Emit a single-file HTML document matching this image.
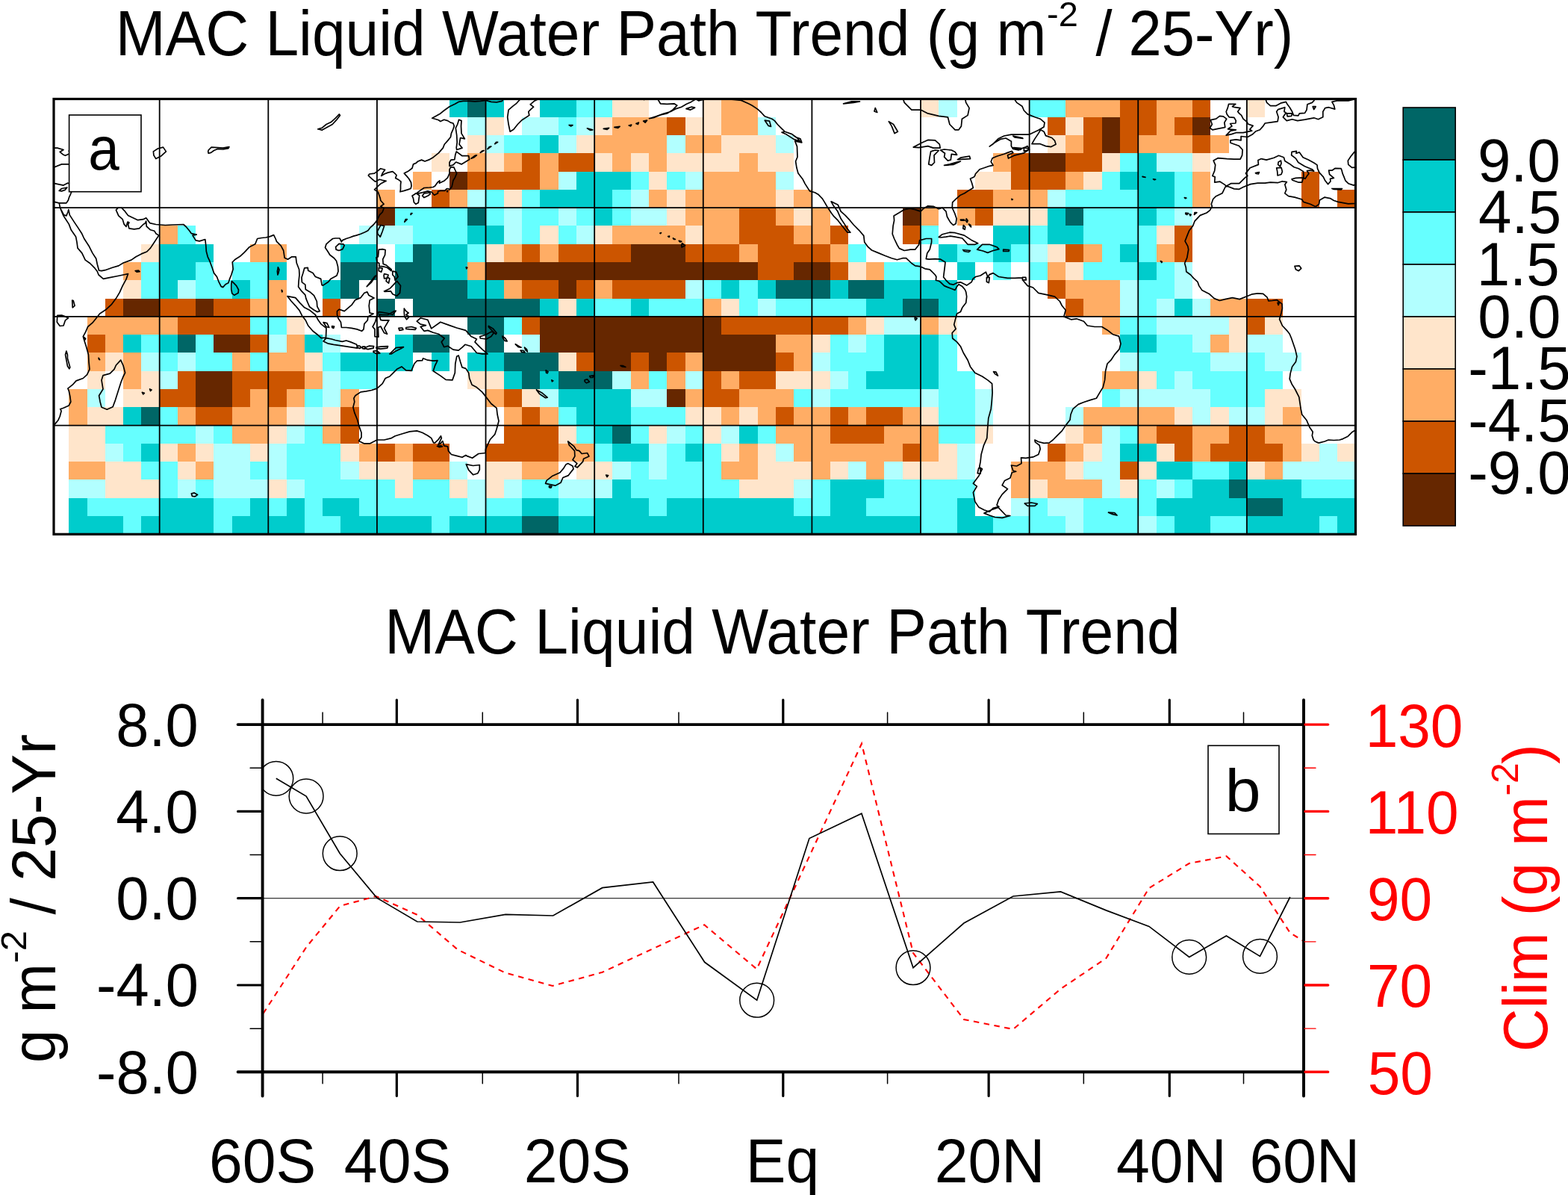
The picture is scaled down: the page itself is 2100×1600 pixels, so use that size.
<!DOCTYPE html>
<html><head><meta charset="utf-8"><title>MAC Liquid Water Path Trend</title>
<style>html,body{margin:0;padding:0;background:#fff;}svg{display:block;}</style></head>
<body>
<svg xmlns="http://www.w3.org/2000/svg" width="2100" height="1600" viewBox="0 0 2100 1600">
<rect width="2100" height="1600" fill="#fff"/>
<defs><clipPath id="mc"><rect x="72.0" y="132.5" width="1743.5" height="582.8"/></clipPath></defs>
<g clip-path="url(#mc)" shape-rendering="crispEdges">
<rect x="602.00" y="132.50" width="24.27" height="24.28" fill="#00cccc"/>
<rect x="626.27" y="132.50" width="24.27" height="24.28" fill="#006666"/>
<rect x="650.54" y="132.50" width="24.27" height="24.28" fill="#00cccc"/>
<rect x="723.35" y="132.50" width="48.54" height="24.28" fill="#00cccc"/>
<rect x="771.89" y="132.50" width="48.54" height="24.28" fill="#66ffff"/>
<rect x="820.43" y="132.50" width="48.54" height="24.28" fill="#ffe5cb"/>
<rect x="941.78" y="132.50" width="24.27" height="24.28" fill="#ffe5cb"/>
<rect x="966.05" y="132.50" width="48.54" height="24.28" fill="#ffad65"/>
<rect x="1233.02" y="132.50" width="24.27" height="24.28" fill="#ffe5cb"/>
<rect x="1257.29" y="132.50" width="24.27" height="24.28" fill="#b2ffff"/>
<rect x="1378.64" y="132.50" width="48.54" height="24.28" fill="#66ffff"/>
<rect x="1427.18" y="132.50" width="72.81" height="24.28" fill="#ffad65"/>
<rect x="1499.99" y="132.50" width="48.54" height="24.28" fill="#cc5500"/>
<rect x="1548.53" y="132.50" width="48.54" height="24.28" fill="#ffad65"/>
<rect x="1597.07" y="132.50" width="24.27" height="24.28" fill="#cc5500"/>
<rect x="1669.88" y="132.50" width="24.27" height="24.28" fill="#ffe5cb"/>
<rect x="626.27" y="156.78" width="24.27" height="24.28" fill="#b2ffff"/>
<rect x="650.54" y="156.78" width="24.27" height="24.28" fill="#ffe5cb"/>
<rect x="699.08" y="156.78" width="48.54" height="24.28" fill="#b2ffff"/>
<rect x="747.62" y="156.78" width="24.27" height="24.28" fill="#66ffff"/>
<rect x="771.89" y="156.78" width="24.27" height="24.28" fill="#b2ffff"/>
<rect x="796.16" y="156.78" width="24.27" height="24.28" fill="#ffe5cb"/>
<rect x="820.43" y="156.78" width="72.81" height="24.28" fill="#ffad65"/>
<rect x="893.24" y="156.78" width="24.27" height="24.28" fill="#cc5500"/>
<rect x="917.51" y="156.78" width="48.54" height="24.28" fill="#ffe5cb"/>
<rect x="966.05" y="156.78" width="48.54" height="24.28" fill="#ffad65"/>
<rect x="1014.59" y="156.78" width="24.27" height="24.28" fill="#b2ffff"/>
<rect x="1402.91" y="156.78" width="24.27" height="24.28" fill="#cc5500"/>
<rect x="1427.18" y="156.78" width="24.27" height="24.28" fill="#ffe5cb"/>
<rect x="1451.45" y="156.78" width="24.27" height="24.28" fill="#cc5500"/>
<rect x="1475.72" y="156.78" width="24.27" height="24.28" fill="#662700"/>
<rect x="1499.99" y="156.78" width="48.54" height="24.28" fill="#cc5500"/>
<rect x="1548.53" y="156.78" width="24.27" height="24.28" fill="#ffad65"/>
<rect x="1572.80" y="156.78" width="24.27" height="24.28" fill="#cc5500"/>
<rect x="1597.07" y="156.78" width="24.27" height="24.28" fill="#662700"/>
<rect x="626.27" y="181.07" width="24.27" height="24.28" fill="#ffe5cb"/>
<rect x="650.54" y="181.07" width="24.27" height="24.28" fill="#b2ffff"/>
<rect x="674.81" y="181.07" width="48.54" height="24.28" fill="#66ffff"/>
<rect x="723.35" y="181.07" width="24.27" height="24.28" fill="#00cccc"/>
<rect x="747.62" y="181.07" width="24.27" height="24.28" fill="#b2ffff"/>
<rect x="771.89" y="181.07" width="24.27" height="24.28" fill="#ffe5cb"/>
<rect x="796.16" y="181.07" width="97.08" height="24.28" fill="#ffad65"/>
<rect x="893.24" y="181.07" width="24.27" height="24.28" fill="#b2ffff"/>
<rect x="917.51" y="181.07" width="48.54" height="24.28" fill="#ffad65"/>
<rect x="966.05" y="181.07" width="72.81" height="24.28" fill="#ffe5cb"/>
<rect x="1038.86" y="181.07" width="24.27" height="24.28" fill="#b2ffff"/>
<rect x="1402.91" y="181.07" width="24.27" height="24.28" fill="#ffe5cb"/>
<rect x="1427.18" y="181.07" width="24.27" height="24.28" fill="#ffad65"/>
<rect x="1451.45" y="181.07" width="24.27" height="24.28" fill="#cc5500"/>
<rect x="1475.72" y="181.07" width="24.27" height="24.28" fill="#662700"/>
<rect x="1499.99" y="181.07" width="24.27" height="24.28" fill="#cc5500"/>
<rect x="1524.26" y="181.07" width="72.81" height="24.28" fill="#ffad65"/>
<rect x="1597.07" y="181.07" width="24.27" height="24.28" fill="#cc5500"/>
<rect x="1621.34" y="181.07" width="24.27" height="24.28" fill="#ffad65"/>
<rect x="577.73" y="205.35" width="24.27" height="24.28" fill="#ffe5cb"/>
<rect x="626.27" y="205.35" width="24.27" height="24.28" fill="#ffad65"/>
<rect x="650.54" y="205.35" width="24.27" height="24.28" fill="#ffe5cb"/>
<rect x="674.81" y="205.35" width="24.27" height="24.28" fill="#ffad65"/>
<rect x="699.08" y="205.35" width="24.27" height="24.28" fill="#cc5500"/>
<rect x="723.35" y="205.35" width="24.27" height="24.28" fill="#ffad65"/>
<rect x="747.62" y="205.35" width="48.54" height="24.28" fill="#cc5500"/>
<rect x="796.16" y="205.35" width="24.27" height="24.28" fill="#ffe5cb"/>
<rect x="820.43" y="205.35" width="24.27" height="24.28" fill="#ffad65"/>
<rect x="844.70" y="205.35" width="24.27" height="24.28" fill="#ffe5cb"/>
<rect x="868.97" y="205.35" width="24.27" height="24.28" fill="#ffad65"/>
<rect x="893.24" y="205.35" width="97.08" height="24.28" fill="#ffe5cb"/>
<rect x="990.32" y="205.35" width="24.27" height="24.28" fill="#ffad65"/>
<rect x="1014.59" y="205.35" width="48.54" height="24.28" fill="#ffe5cb"/>
<rect x="1330.10" y="205.35" width="24.27" height="24.28" fill="#ffad65"/>
<rect x="1354.37" y="205.35" width="24.27" height="24.28" fill="#cc5500"/>
<rect x="1378.64" y="205.35" width="48.54" height="24.28" fill="#662700"/>
<rect x="1427.18" y="205.35" width="48.54" height="24.28" fill="#cc5500"/>
<rect x="1475.72" y="205.35" width="24.27" height="24.28" fill="#ffe5cb"/>
<rect x="1499.99" y="205.35" width="24.27" height="24.28" fill="#66ffff"/>
<rect x="1524.26" y="205.35" width="24.27" height="24.28" fill="#00cccc"/>
<rect x="1548.53" y="205.35" width="48.54" height="24.28" fill="#b2ffff"/>
<rect x="1597.07" y="205.35" width="24.27" height="24.28" fill="#ffe5cb"/>
<rect x="553.46" y="229.63" width="24.27" height="24.28" fill="#ffad65"/>
<rect x="602.00" y="229.63" width="24.27" height="24.28" fill="#662700"/>
<rect x="626.27" y="229.63" width="97.08" height="24.28" fill="#cc5500"/>
<rect x="723.35" y="229.63" width="24.27" height="24.28" fill="#ffad65"/>
<rect x="747.62" y="229.63" width="24.27" height="24.28" fill="#b2ffff"/>
<rect x="771.89" y="229.63" width="72.81" height="24.28" fill="#00cccc"/>
<rect x="844.70" y="229.63" width="24.27" height="24.28" fill="#66ffff"/>
<rect x="868.97" y="229.63" width="24.27" height="24.28" fill="#ffe5cb"/>
<rect x="893.24" y="229.63" width="24.27" height="24.28" fill="#66ffff"/>
<rect x="917.51" y="229.63" width="24.27" height="24.28" fill="#b2ffff"/>
<rect x="941.78" y="229.63" width="97.08" height="24.28" fill="#ffad65"/>
<rect x="1038.86" y="229.63" width="24.27" height="24.28" fill="#b2ffff"/>
<rect x="1305.83" y="229.63" width="48.54" height="24.28" fill="#ffe5cb"/>
<rect x="1354.37" y="229.63" width="72.81" height="24.28" fill="#cc5500"/>
<rect x="1427.18" y="229.63" width="24.27" height="24.28" fill="#ffad65"/>
<rect x="1451.45" y="229.63" width="24.27" height="24.28" fill="#ffe5cb"/>
<rect x="1475.72" y="229.63" width="24.27" height="24.28" fill="#66ffff"/>
<rect x="1499.99" y="229.63" width="72.81" height="24.28" fill="#00cccc"/>
<rect x="1572.80" y="229.63" width="24.27" height="24.28" fill="#66ffff"/>
<rect x="1597.07" y="229.63" width="24.27" height="24.28" fill="#ffad65"/>
<rect x="1742.69" y="229.63" width="24.27" height="24.28" fill="#cc5500"/>
<rect x="504.92" y="253.92" width="24.27" height="24.28" fill="#ffad65"/>
<rect x="577.73" y="253.92" width="24.27" height="24.28" fill="#cc5500"/>
<rect x="602.00" y="253.92" width="24.27" height="24.28" fill="#ffad65"/>
<rect x="626.27" y="253.92" width="24.27" height="24.28" fill="#b2ffff"/>
<rect x="650.54" y="253.92" width="24.27" height="24.28" fill="#66ffff"/>
<rect x="674.81" y="253.92" width="24.27" height="24.28" fill="#ffe5cb"/>
<rect x="699.08" y="253.92" width="24.27" height="24.28" fill="#66ffff"/>
<rect x="723.35" y="253.92" width="97.08" height="24.28" fill="#00cccc"/>
<rect x="820.43" y="253.92" width="24.27" height="24.28" fill="#66ffff"/>
<rect x="844.70" y="253.92" width="24.27" height="24.28" fill="#b2ffff"/>
<rect x="868.97" y="253.92" width="24.27" height="24.28" fill="#ffad65"/>
<rect x="893.24" y="253.92" width="24.27" height="24.28" fill="#ffe5cb"/>
<rect x="917.51" y="253.92" width="121.35" height="24.28" fill="#ffad65"/>
<rect x="1038.86" y="253.92" width="24.27" height="24.28" fill="#ffe5cb"/>
<rect x="1063.13" y="253.92" width="24.27" height="24.28" fill="#ffad65"/>
<rect x="1281.56" y="253.92" width="48.54" height="24.28" fill="#cc5500"/>
<rect x="1330.10" y="253.92" width="72.81" height="24.28" fill="#ffad65"/>
<rect x="1402.91" y="253.92" width="24.27" height="24.28" fill="#b2ffff"/>
<rect x="1427.18" y="253.92" width="97.08" height="24.28" fill="#66ffff"/>
<rect x="1524.26" y="253.92" width="48.54" height="24.28" fill="#00cccc"/>
<rect x="1572.80" y="253.92" width="24.27" height="24.28" fill="#66ffff"/>
<rect x="1597.07" y="253.92" width="24.27" height="24.28" fill="#ffad65"/>
<rect x="1742.69" y="253.92" width="24.27" height="24.28" fill="#cc5500"/>
<rect x="1791.23" y="253.92" width="24.27" height="24.28" fill="#cc5500"/>
<rect x="504.92" y="278.20" width="24.27" height="24.28" fill="#662700"/>
<rect x="529.19" y="278.20" width="97.08" height="24.28" fill="#66ffff"/>
<rect x="626.27" y="278.20" width="24.27" height="24.28" fill="#006666"/>
<rect x="650.54" y="278.20" width="24.27" height="24.28" fill="#66ffff"/>
<rect x="674.81" y="278.20" width="24.27" height="24.28" fill="#b2ffff"/>
<rect x="699.08" y="278.20" width="48.54" height="24.28" fill="#66ffff"/>
<rect x="747.62" y="278.20" width="24.27" height="24.28" fill="#b2ffff"/>
<rect x="771.89" y="278.20" width="24.27" height="24.28" fill="#66ffff"/>
<rect x="796.16" y="278.20" width="24.27" height="24.28" fill="#00cccc"/>
<rect x="820.43" y="278.20" width="24.27" height="24.28" fill="#66ffff"/>
<rect x="844.70" y="278.20" width="48.54" height="24.28" fill="#b2ffff"/>
<rect x="893.24" y="278.20" width="24.27" height="24.28" fill="#ffe5cb"/>
<rect x="917.51" y="278.20" width="72.81" height="24.28" fill="#ffad65"/>
<rect x="990.32" y="278.20" width="48.54" height="24.28" fill="#cc5500"/>
<rect x="1038.86" y="278.20" width="24.27" height="24.28" fill="#ffad65"/>
<rect x="1063.13" y="278.20" width="24.27" height="24.28" fill="#ffe5cb"/>
<rect x="1087.40" y="278.20" width="24.27" height="24.28" fill="#ffad65"/>
<rect x="1208.75" y="278.20" width="24.27" height="24.28" fill="#662700"/>
<rect x="1233.02" y="278.20" width="24.27" height="24.28" fill="#ffad65"/>
<rect x="1281.56" y="278.20" width="24.27" height="24.28" fill="#ffad65"/>
<rect x="1305.83" y="278.20" width="24.27" height="24.28" fill="#cc5500"/>
<rect x="1330.10" y="278.20" width="72.81" height="24.28" fill="#ffe5cb"/>
<rect x="1402.91" y="278.20" width="24.27" height="24.28" fill="#00cccc"/>
<rect x="1427.18" y="278.20" width="24.27" height="24.28" fill="#006666"/>
<rect x="1451.45" y="278.20" width="72.81" height="24.28" fill="#66ffff"/>
<rect x="1524.26" y="278.20" width="24.27" height="24.28" fill="#00cccc"/>
<rect x="1548.53" y="278.20" width="24.27" height="24.28" fill="#66ffff"/>
<rect x="1572.80" y="278.20" width="24.27" height="24.28" fill="#b2ffff"/>
<rect x="213.68" y="302.48" width="24.27" height="24.28" fill="#ffad65"/>
<rect x="237.95" y="302.48" width="24.27" height="24.28" fill="#66ffff"/>
<rect x="480.65" y="302.48" width="72.81" height="24.28" fill="#b2ffff"/>
<rect x="553.46" y="302.48" width="72.81" height="24.28" fill="#66ffff"/>
<rect x="626.27" y="302.48" width="48.54" height="24.28" fill="#00cccc"/>
<rect x="674.81" y="302.48" width="24.27" height="24.28" fill="#b2ffff"/>
<rect x="699.08" y="302.48" width="24.27" height="24.28" fill="#66ffff"/>
<rect x="723.35" y="302.48" width="24.27" height="24.28" fill="#ffe5cb"/>
<rect x="747.62" y="302.48" width="24.27" height="24.28" fill="#66ffff"/>
<rect x="771.89" y="302.48" width="24.27" height="24.28" fill="#b2ffff"/>
<rect x="796.16" y="302.48" width="24.27" height="24.28" fill="#ffe5cb"/>
<rect x="820.43" y="302.48" width="97.08" height="24.28" fill="#ffad65"/>
<rect x="917.51" y="302.48" width="24.27" height="24.28" fill="#ffe5cb"/>
<rect x="941.78" y="302.48" width="48.54" height="24.28" fill="#ffad65"/>
<rect x="990.32" y="302.48" width="72.81" height="24.28" fill="#cc5500"/>
<rect x="1063.13" y="302.48" width="48.54" height="24.28" fill="#ffad65"/>
<rect x="1111.67" y="302.48" width="24.27" height="24.28" fill="#cc5500"/>
<rect x="1208.75" y="302.48" width="24.27" height="24.28" fill="#cc5500"/>
<rect x="1233.02" y="302.48" width="24.27" height="24.28" fill="#66ffff"/>
<rect x="1330.10" y="302.48" width="48.54" height="24.28" fill="#00cccc"/>
<rect x="1378.64" y="302.48" width="24.27" height="24.28" fill="#66ffff"/>
<rect x="1402.91" y="302.48" width="48.54" height="24.28" fill="#00cccc"/>
<rect x="1451.45" y="302.48" width="97.08" height="24.28" fill="#66ffff"/>
<rect x="1548.53" y="302.48" width="24.27" height="24.28" fill="#ffe5cb"/>
<rect x="1572.80" y="302.48" width="24.27" height="24.28" fill="#cc5500"/>
<rect x="189.41" y="326.77" width="24.27" height="24.28" fill="#ffe5cb"/>
<rect x="213.68" y="326.77" width="72.81" height="24.28" fill="#00cccc"/>
<rect x="335.03" y="326.77" width="48.54" height="24.28" fill="#ffad65"/>
<rect x="456.38" y="326.77" width="48.54" height="24.28" fill="#00cccc"/>
<rect x="529.19" y="326.77" width="24.27" height="24.28" fill="#66ffff"/>
<rect x="553.46" y="326.77" width="24.27" height="24.28" fill="#006666"/>
<rect x="577.73" y="326.77" width="48.54" height="24.28" fill="#00cccc"/>
<rect x="626.27" y="326.77" width="24.27" height="24.28" fill="#66ffff"/>
<rect x="650.54" y="326.77" width="24.27" height="24.28" fill="#ffe5cb"/>
<rect x="674.81" y="326.77" width="24.27" height="24.28" fill="#ffad65"/>
<rect x="699.08" y="326.77" width="24.27" height="24.28" fill="#cc5500"/>
<rect x="723.35" y="326.77" width="24.27" height="24.28" fill="#ffad65"/>
<rect x="747.62" y="326.77" width="97.08" height="24.28" fill="#cc5500"/>
<rect x="844.70" y="326.77" width="72.81" height="24.28" fill="#662700"/>
<rect x="917.51" y="326.77" width="72.81" height="24.28" fill="#cc5500"/>
<rect x="990.32" y="326.77" width="24.27" height="24.28" fill="#ffad65"/>
<rect x="1014.59" y="326.77" width="97.08" height="24.28" fill="#cc5500"/>
<rect x="1111.67" y="326.77" width="24.27" height="24.28" fill="#ffad65"/>
<rect x="1135.94" y="326.77" width="24.27" height="24.28" fill="#66ffff"/>
<rect x="1257.29" y="326.77" width="24.27" height="24.28" fill="#00cccc"/>
<rect x="1281.56" y="326.77" width="48.54" height="24.28" fill="#66ffff"/>
<rect x="1330.10" y="326.77" width="24.27" height="24.28" fill="#00cccc"/>
<rect x="1354.37" y="326.77" width="24.27" height="24.28" fill="#66ffff"/>
<rect x="1378.64" y="326.77" width="24.27" height="24.28" fill="#b2ffff"/>
<rect x="1402.91" y="326.77" width="24.27" height="24.28" fill="#ffe5cb"/>
<rect x="1427.18" y="326.77" width="24.27" height="24.28" fill="#cc5500"/>
<rect x="1451.45" y="326.77" width="24.27" height="24.28" fill="#ffad65"/>
<rect x="1475.72" y="326.77" width="24.27" height="24.28" fill="#66ffff"/>
<rect x="1499.99" y="326.77" width="24.27" height="24.28" fill="#00cccc"/>
<rect x="1524.26" y="326.77" width="24.27" height="24.28" fill="#66ffff"/>
<rect x="1548.53" y="326.77" width="24.27" height="24.28" fill="#ffad65"/>
<rect x="1572.80" y="326.77" width="24.27" height="24.28" fill="#cc5500"/>
<rect x="165.14" y="351.05" width="24.27" height="24.28" fill="#ffad65"/>
<rect x="189.41" y="351.05" width="24.27" height="24.28" fill="#66ffff"/>
<rect x="213.68" y="351.05" width="48.54" height="24.28" fill="#00cccc"/>
<rect x="262.22" y="351.05" width="24.27" height="24.28" fill="#66ffff"/>
<rect x="310.76" y="351.05" width="48.54" height="24.28" fill="#66ffff"/>
<rect x="359.30" y="351.05" width="24.27" height="24.28" fill="#00cccc"/>
<rect x="456.38" y="351.05" width="48.54" height="24.28" fill="#006666"/>
<rect x="529.19" y="351.05" width="48.54" height="24.28" fill="#006666"/>
<rect x="577.73" y="351.05" width="48.54" height="24.28" fill="#00cccc"/>
<rect x="626.27" y="351.05" width="24.27" height="24.28" fill="#ffad65"/>
<rect x="650.54" y="351.05" width="364.05" height="24.28" fill="#662700"/>
<rect x="1014.59" y="351.05" width="48.54" height="24.28" fill="#cc5500"/>
<rect x="1063.13" y="351.05" width="48.54" height="24.28" fill="#662700"/>
<rect x="1111.67" y="351.05" width="24.27" height="24.28" fill="#cc5500"/>
<rect x="1135.94" y="351.05" width="24.27" height="24.28" fill="#ffe5cb"/>
<rect x="1160.21" y="351.05" width="24.27" height="24.28" fill="#ffad65"/>
<rect x="1184.48" y="351.05" width="48.54" height="24.28" fill="#66ffff"/>
<rect x="1281.56" y="351.05" width="24.27" height="24.28" fill="#00cccc"/>
<rect x="1330.10" y="351.05" width="24.27" height="24.28" fill="#66ffff"/>
<rect x="1378.64" y="351.05" width="24.27" height="24.28" fill="#66ffff"/>
<rect x="1402.91" y="351.05" width="24.27" height="24.28" fill="#ffad65"/>
<rect x="1427.18" y="351.05" width="24.27" height="24.28" fill="#ffe5cb"/>
<rect x="1451.45" y="351.05" width="72.81" height="24.28" fill="#66ffff"/>
<rect x="1524.26" y="351.05" width="24.27" height="24.28" fill="#00cccc"/>
<rect x="1548.53" y="351.05" width="24.27" height="24.28" fill="#66ffff"/>
<rect x="1572.80" y="351.05" width="24.27" height="24.28" fill="#b2ffff"/>
<rect x="165.14" y="375.33" width="24.27" height="24.28" fill="#ffe5cb"/>
<rect x="189.41" y="375.33" width="24.27" height="24.28" fill="#66ffff"/>
<rect x="213.68" y="375.33" width="24.27" height="24.28" fill="#00cccc"/>
<rect x="237.95" y="375.33" width="24.27" height="24.28" fill="#b2ffff"/>
<rect x="262.22" y="375.33" width="48.54" height="24.28" fill="#66ffff"/>
<rect x="310.76" y="375.33" width="24.27" height="24.28" fill="#00cccc"/>
<rect x="335.03" y="375.33" width="24.27" height="24.28" fill="#66ffff"/>
<rect x="359.30" y="375.33" width="24.27" height="24.28" fill="#ffad65"/>
<rect x="432.11" y="375.33" width="24.27" height="24.28" fill="#00cccc"/>
<rect x="456.38" y="375.33" width="24.27" height="24.28" fill="#006666"/>
<rect x="529.19" y="375.33" width="97.08" height="24.28" fill="#006666"/>
<rect x="626.27" y="375.33" width="48.54" height="24.28" fill="#00cccc"/>
<rect x="674.81" y="375.33" width="24.27" height="24.28" fill="#ffad65"/>
<rect x="699.08" y="375.33" width="48.54" height="24.28" fill="#cc5500"/>
<rect x="747.62" y="375.33" width="24.27" height="24.28" fill="#662700"/>
<rect x="771.89" y="375.33" width="24.27" height="24.28" fill="#cc5500"/>
<rect x="796.16" y="375.33" width="24.27" height="24.28" fill="#ffad65"/>
<rect x="820.43" y="375.33" width="97.08" height="24.28" fill="#cc5500"/>
<rect x="917.51" y="375.33" width="24.27" height="24.28" fill="#b2ffff"/>
<rect x="941.78" y="375.33" width="24.27" height="24.28" fill="#66ffff"/>
<rect x="966.05" y="375.33" width="24.27" height="24.28" fill="#00cccc"/>
<rect x="990.32" y="375.33" width="24.27" height="24.28" fill="#66ffff"/>
<rect x="1014.59" y="375.33" width="24.27" height="24.28" fill="#00cccc"/>
<rect x="1038.86" y="375.33" width="72.81" height="24.28" fill="#006666"/>
<rect x="1111.67" y="375.33" width="24.27" height="24.28" fill="#00cccc"/>
<rect x="1135.94" y="375.33" width="48.54" height="24.28" fill="#006666"/>
<rect x="1184.48" y="375.33" width="97.08" height="24.28" fill="#00cccc"/>
<rect x="1402.91" y="375.33" width="24.27" height="24.28" fill="#cc5500"/>
<rect x="1427.18" y="375.33" width="72.81" height="24.28" fill="#ffad65"/>
<rect x="1499.99" y="375.33" width="24.27" height="24.28" fill="#b2ffff"/>
<rect x="1524.26" y="375.33" width="48.54" height="24.28" fill="#66ffff"/>
<rect x="1572.80" y="375.33" width="24.27" height="24.28" fill="#b2ffff"/>
<rect x="140.87" y="399.62" width="24.27" height="24.28" fill="#cc5500"/>
<rect x="165.14" y="399.62" width="48.54" height="24.28" fill="#662700"/>
<rect x="213.68" y="399.62" width="48.54" height="24.28" fill="#cc5500"/>
<rect x="262.22" y="399.62" width="24.27" height="24.28" fill="#662700"/>
<rect x="286.49" y="399.62" width="48.54" height="24.28" fill="#cc5500"/>
<rect x="335.03" y="399.62" width="48.54" height="24.28" fill="#ffad65"/>
<rect x="432.11" y="399.62" width="24.27" height="24.28" fill="#cc5500"/>
<rect x="504.92" y="399.62" width="24.27" height="24.28" fill="#006666"/>
<rect x="553.46" y="399.62" width="169.89" height="24.28" fill="#006666"/>
<rect x="723.35" y="399.62" width="24.27" height="24.28" fill="#00cccc"/>
<rect x="747.62" y="399.62" width="24.27" height="24.28" fill="#ffe5cb"/>
<rect x="771.89" y="399.62" width="24.27" height="24.28" fill="#00cccc"/>
<rect x="796.16" y="399.62" width="48.54" height="24.28" fill="#66ffff"/>
<rect x="844.70" y="399.62" width="24.27" height="24.28" fill="#00cccc"/>
<rect x="868.97" y="399.62" width="72.81" height="24.28" fill="#66ffff"/>
<rect x="941.78" y="399.62" width="24.27" height="24.28" fill="#ffad65"/>
<rect x="966.05" y="399.62" width="24.27" height="24.28" fill="#ffe5cb"/>
<rect x="990.32" y="399.62" width="24.27" height="24.28" fill="#66ffff"/>
<rect x="1014.59" y="399.62" width="24.27" height="24.28" fill="#b2ffff"/>
<rect x="1038.86" y="399.62" width="121.35" height="24.28" fill="#66ffff"/>
<rect x="1160.21" y="399.62" width="48.54" height="24.28" fill="#00cccc"/>
<rect x="1208.75" y="399.62" width="48.54" height="24.28" fill="#006666"/>
<rect x="1257.29" y="399.62" width="24.27" height="24.28" fill="#00cccc"/>
<rect x="1427.18" y="399.62" width="24.27" height="24.28" fill="#cc5500"/>
<rect x="1451.45" y="399.62" width="48.54" height="24.28" fill="#ffad65"/>
<rect x="1499.99" y="399.62" width="24.27" height="24.28" fill="#b2ffff"/>
<rect x="1524.26" y="399.62" width="24.27" height="24.28" fill="#66ffff"/>
<rect x="1548.53" y="399.62" width="24.27" height="24.28" fill="#b2ffff"/>
<rect x="1572.80" y="399.62" width="24.27" height="24.28" fill="#00cccc"/>
<rect x="1597.07" y="399.62" width="24.27" height="24.28" fill="#b2ffff"/>
<rect x="1621.34" y="399.62" width="48.54" height="24.28" fill="#ffad65"/>
<rect x="1669.88" y="399.62" width="48.54" height="24.28" fill="#cc5500"/>
<rect x="116.60" y="423.90" width="121.35" height="24.28" fill="#ffad65"/>
<rect x="237.95" y="423.90" width="97.08" height="24.28" fill="#cc5500"/>
<rect x="335.03" y="423.90" width="48.54" height="24.28" fill="#66ffff"/>
<rect x="383.57" y="423.90" width="24.27" height="24.28" fill="#ffe5cb"/>
<rect x="626.27" y="423.90" width="48.54" height="24.28" fill="#006666"/>
<rect x="674.81" y="423.90" width="24.27" height="24.28" fill="#66ffff"/>
<rect x="699.08" y="423.90" width="24.27" height="24.28" fill="#cc5500"/>
<rect x="723.35" y="423.90" width="242.70" height="24.28" fill="#662700"/>
<rect x="966.05" y="423.90" width="169.89" height="24.28" fill="#cc5500"/>
<rect x="1135.94" y="423.90" width="24.27" height="24.28" fill="#ffad65"/>
<rect x="1160.21" y="423.90" width="24.27" height="24.28" fill="#ffe5cb"/>
<rect x="1184.48" y="423.90" width="48.54" height="24.28" fill="#b2ffff"/>
<rect x="1233.02" y="423.90" width="24.27" height="24.28" fill="#ffad65"/>
<rect x="1257.29" y="423.90" width="24.27" height="24.28" fill="#ffe5cb"/>
<rect x="1475.72" y="423.90" width="24.27" height="24.28" fill="#ffad65"/>
<rect x="1499.99" y="423.90" width="48.54" height="24.28" fill="#66ffff"/>
<rect x="1548.53" y="423.90" width="97.08" height="24.28" fill="#b2ffff"/>
<rect x="1645.61" y="423.90" width="24.27" height="24.28" fill="#ffe5cb"/>
<rect x="1669.88" y="423.90" width="24.27" height="24.28" fill="#cc5500"/>
<rect x="1694.15" y="423.90" width="24.27" height="24.28" fill="#ffe5cb"/>
<rect x="116.60" y="448.18" width="24.27" height="24.28" fill="#cc5500"/>
<rect x="140.87" y="448.18" width="24.27" height="24.28" fill="#ffad65"/>
<rect x="165.14" y="448.18" width="24.27" height="24.28" fill="#00cccc"/>
<rect x="189.41" y="448.18" width="24.27" height="24.28" fill="#66ffff"/>
<rect x="213.68" y="448.18" width="24.27" height="24.28" fill="#00cccc"/>
<rect x="237.95" y="448.18" width="24.27" height="24.28" fill="#006666"/>
<rect x="262.22" y="448.18" width="24.27" height="24.28" fill="#66ffff"/>
<rect x="286.49" y="448.18" width="48.54" height="24.28" fill="#662700"/>
<rect x="335.03" y="448.18" width="24.27" height="24.28" fill="#cc5500"/>
<rect x="359.30" y="448.18" width="24.27" height="24.28" fill="#b2ffff"/>
<rect x="383.57" y="448.18" width="24.27" height="24.28" fill="#ffad65"/>
<rect x="407.84" y="448.18" width="24.27" height="24.28" fill="#00cccc"/>
<rect x="432.11" y="448.18" width="24.27" height="24.28" fill="#b2ffff"/>
<rect x="529.19" y="448.18" width="24.27" height="24.28" fill="#00cccc"/>
<rect x="553.46" y="448.18" width="48.54" height="24.28" fill="#006666"/>
<rect x="650.54" y="448.18" width="24.27" height="24.28" fill="#006666"/>
<rect x="699.08" y="448.18" width="24.27" height="24.28" fill="#b2ffff"/>
<rect x="723.35" y="448.18" width="315.51" height="24.28" fill="#662700"/>
<rect x="1038.86" y="448.18" width="48.54" height="24.28" fill="#ffad65"/>
<rect x="1087.40" y="448.18" width="24.27" height="24.28" fill="#ffe5cb"/>
<rect x="1111.67" y="448.18" width="24.27" height="24.28" fill="#66ffff"/>
<rect x="1135.94" y="448.18" width="24.27" height="24.28" fill="#b2ffff"/>
<rect x="1160.21" y="448.18" width="24.27" height="24.28" fill="#66ffff"/>
<rect x="1184.48" y="448.18" width="72.81" height="24.28" fill="#00cccc"/>
<rect x="1257.29" y="448.18" width="24.27" height="24.28" fill="#66ffff"/>
<rect x="1499.99" y="448.18" width="48.54" height="24.28" fill="#00cccc"/>
<rect x="1548.53" y="448.18" width="48.54" height="24.28" fill="#66ffff"/>
<rect x="1597.07" y="448.18" width="24.27" height="24.28" fill="#b2ffff"/>
<rect x="1621.34" y="448.18" width="24.27" height="24.28" fill="#ffad65"/>
<rect x="1645.61" y="448.18" width="24.27" height="24.28" fill="#ffe5cb"/>
<rect x="1669.88" y="448.18" width="48.54" height="24.28" fill="#b2ffff"/>
<rect x="116.60" y="472.47" width="24.27" height="24.28" fill="#ffad65"/>
<rect x="140.87" y="472.47" width="24.27" height="24.28" fill="#ffe5cb"/>
<rect x="165.14" y="472.47" width="24.27" height="24.28" fill="#ffad65"/>
<rect x="189.41" y="472.47" width="24.27" height="24.28" fill="#b2ffff"/>
<rect x="213.68" y="472.47" width="24.27" height="24.28" fill="#66ffff"/>
<rect x="237.95" y="472.47" width="24.27" height="24.28" fill="#b2ffff"/>
<rect x="262.22" y="472.47" width="48.54" height="24.28" fill="#66ffff"/>
<rect x="310.76" y="472.47" width="24.27" height="24.28" fill="#ffad65"/>
<rect x="335.03" y="472.47" width="24.27" height="24.28" fill="#66ffff"/>
<rect x="359.30" y="472.47" width="48.54" height="24.28" fill="#ffad65"/>
<rect x="407.84" y="472.47" width="24.27" height="24.28" fill="#ffe5cb"/>
<rect x="432.11" y="472.47" width="24.27" height="24.28" fill="#66ffff"/>
<rect x="456.38" y="472.47" width="97.08" height="24.28" fill="#00cccc"/>
<rect x="577.73" y="472.47" width="24.27" height="24.28" fill="#00cccc"/>
<rect x="626.27" y="472.47" width="48.54" height="24.28" fill="#00cccc"/>
<rect x="674.81" y="472.47" width="72.81" height="24.28" fill="#006666"/>
<rect x="747.62" y="472.47" width="24.27" height="24.28" fill="#ffe5cb"/>
<rect x="771.89" y="472.47" width="24.27" height="24.28" fill="#cc5500"/>
<rect x="796.16" y="472.47" width="48.54" height="24.28" fill="#662700"/>
<rect x="844.70" y="472.47" width="24.27" height="24.28" fill="#cc5500"/>
<rect x="868.97" y="472.47" width="24.27" height="24.28" fill="#662700"/>
<rect x="893.24" y="472.47" width="24.27" height="24.28" fill="#cc5500"/>
<rect x="917.51" y="472.47" width="24.27" height="24.28" fill="#ffad65"/>
<rect x="941.78" y="472.47" width="97.08" height="24.28" fill="#662700"/>
<rect x="1038.86" y="472.47" width="24.27" height="24.28" fill="#cc5500"/>
<rect x="1063.13" y="472.47" width="24.27" height="24.28" fill="#ffad65"/>
<rect x="1087.40" y="472.47" width="24.27" height="24.28" fill="#b2ffff"/>
<rect x="1111.67" y="472.47" width="72.81" height="24.28" fill="#66ffff"/>
<rect x="1184.48" y="472.47" width="72.81" height="24.28" fill="#00cccc"/>
<rect x="1257.29" y="472.47" width="24.27" height="24.28" fill="#66ffff"/>
<rect x="1499.99" y="472.47" width="24.27" height="24.28" fill="#b2ffff"/>
<rect x="1524.26" y="472.47" width="97.08" height="24.28" fill="#66ffff"/>
<rect x="1621.34" y="472.47" width="48.54" height="24.28" fill="#b2ffff"/>
<rect x="1669.88" y="472.47" width="24.27" height="24.28" fill="#66ffff"/>
<rect x="1694.15" y="472.47" width="48.54" height="24.28" fill="#b2ffff"/>
<rect x="116.60" y="496.75" width="24.27" height="24.28" fill="#ffe5cb"/>
<rect x="165.14" y="496.75" width="24.27" height="24.28" fill="#ffad65"/>
<rect x="189.41" y="496.75" width="24.27" height="24.28" fill="#ffe5cb"/>
<rect x="213.68" y="496.75" width="24.27" height="24.28" fill="#b2ffff"/>
<rect x="237.95" y="496.75" width="24.27" height="24.28" fill="#cc5500"/>
<rect x="262.22" y="496.75" width="48.54" height="24.28" fill="#662700"/>
<rect x="310.76" y="496.75" width="97.08" height="24.28" fill="#cc5500"/>
<rect x="407.84" y="496.75" width="24.27" height="24.28" fill="#ffad65"/>
<rect x="432.11" y="496.75" width="24.27" height="24.28" fill="#b2ffff"/>
<rect x="456.38" y="496.75" width="48.54" height="24.28" fill="#66ffff"/>
<rect x="626.27" y="496.75" width="48.54" height="24.28" fill="#ffe5cb"/>
<rect x="674.81" y="496.75" width="24.27" height="24.28" fill="#00cccc"/>
<rect x="699.08" y="496.75" width="24.27" height="24.28" fill="#006666"/>
<rect x="723.35" y="496.75" width="24.27" height="24.28" fill="#00cccc"/>
<rect x="747.62" y="496.75" width="72.81" height="24.28" fill="#006666"/>
<rect x="820.43" y="496.75" width="24.27" height="24.28" fill="#b2ffff"/>
<rect x="844.70" y="496.75" width="24.27" height="24.28" fill="#ffad65"/>
<rect x="868.97" y="496.75" width="24.27" height="24.28" fill="#66ffff"/>
<rect x="893.24" y="496.75" width="24.27" height="24.28" fill="#ffad65"/>
<rect x="917.51" y="496.75" width="24.27" height="24.28" fill="#b2ffff"/>
<rect x="941.78" y="496.75" width="24.27" height="24.28" fill="#cc5500"/>
<rect x="966.05" y="496.75" width="24.27" height="24.28" fill="#ffad65"/>
<rect x="990.32" y="496.75" width="48.54" height="24.28" fill="#cc5500"/>
<rect x="1038.86" y="496.75" width="72.81" height="24.28" fill="#ffe5cb"/>
<rect x="1111.67" y="496.75" width="24.27" height="24.28" fill="#b2ffff"/>
<rect x="1135.94" y="496.75" width="24.27" height="24.28" fill="#66ffff"/>
<rect x="1160.21" y="496.75" width="97.08" height="24.28" fill="#00cccc"/>
<rect x="1257.29" y="496.75" width="48.54" height="24.28" fill="#66ffff"/>
<rect x="1475.72" y="496.75" width="48.54" height="24.28" fill="#ffad65"/>
<rect x="1524.26" y="496.75" width="24.27" height="24.28" fill="#ffe5cb"/>
<rect x="1548.53" y="496.75" width="24.27" height="24.28" fill="#66ffff"/>
<rect x="1572.80" y="496.75" width="24.27" height="24.28" fill="#b2ffff"/>
<rect x="1597.07" y="496.75" width="121.35" height="24.28" fill="#66ffff"/>
<rect x="92.33" y="521.03" width="24.27" height="24.28" fill="#ffad65"/>
<rect x="116.60" y="521.03" width="24.27" height="24.28" fill="#b2ffff"/>
<rect x="165.14" y="521.03" width="48.54" height="24.28" fill="#ffe5cb"/>
<rect x="213.68" y="521.03" width="48.54" height="24.28" fill="#cc5500"/>
<rect x="262.22" y="521.03" width="48.54" height="24.28" fill="#662700"/>
<rect x="310.76" y="521.03" width="24.27" height="24.28" fill="#cc5500"/>
<rect x="335.03" y="521.03" width="24.27" height="24.28" fill="#ffad65"/>
<rect x="359.30" y="521.03" width="24.27" height="24.28" fill="#cc5500"/>
<rect x="383.57" y="521.03" width="24.27" height="24.28" fill="#ffad65"/>
<rect x="407.84" y="521.03" width="24.27" height="24.28" fill="#66ffff"/>
<rect x="432.11" y="521.03" width="24.27" height="24.28" fill="#b2ffff"/>
<rect x="456.38" y="521.03" width="24.27" height="24.28" fill="#ffad65"/>
<rect x="650.54" y="521.03" width="24.27" height="24.28" fill="#ffad65"/>
<rect x="674.81" y="521.03" width="24.27" height="24.28" fill="#cc5500"/>
<rect x="699.08" y="521.03" width="24.27" height="24.28" fill="#ffe5cb"/>
<rect x="723.35" y="521.03" width="24.27" height="24.28" fill="#b2ffff"/>
<rect x="747.62" y="521.03" width="97.08" height="24.28" fill="#00cccc"/>
<rect x="844.70" y="521.03" width="48.54" height="24.28" fill="#b2ffff"/>
<rect x="893.24" y="521.03" width="24.27" height="24.28" fill="#662700"/>
<rect x="917.51" y="521.03" width="24.27" height="24.28" fill="#ffad65"/>
<rect x="941.78" y="521.03" width="48.54" height="24.28" fill="#cc5500"/>
<rect x="990.32" y="521.03" width="72.81" height="24.28" fill="#ffad65"/>
<rect x="1063.13" y="521.03" width="24.27" height="24.28" fill="#66ffff"/>
<rect x="1087.40" y="521.03" width="24.27" height="24.28" fill="#b2ffff"/>
<rect x="1111.67" y="521.03" width="121.35" height="24.28" fill="#66ffff"/>
<rect x="1233.02" y="521.03" width="24.27" height="24.28" fill="#b2ffff"/>
<rect x="1257.29" y="521.03" width="48.54" height="24.28" fill="#66ffff"/>
<rect x="1305.83" y="521.03" width="24.27" height="24.28" fill="#b2ffff"/>
<rect x="1475.72" y="521.03" width="24.27" height="24.28" fill="#66ffff"/>
<rect x="1499.99" y="521.03" width="121.35" height="24.28" fill="#b2ffff"/>
<rect x="1621.34" y="521.03" width="72.81" height="24.28" fill="#66ffff"/>
<rect x="1694.15" y="521.03" width="48.54" height="24.28" fill="#ffe5cb"/>
<rect x="92.33" y="545.32" width="24.27" height="24.28" fill="#ffad65"/>
<rect x="116.60" y="545.32" width="48.54" height="24.28" fill="#ffe5cb"/>
<rect x="165.14" y="545.32" width="24.27" height="24.28" fill="#00cccc"/>
<rect x="189.41" y="545.32" width="24.27" height="24.28" fill="#006666"/>
<rect x="213.68" y="545.32" width="24.27" height="24.28" fill="#66ffff"/>
<rect x="237.95" y="545.32" width="24.27" height="24.28" fill="#ffad65"/>
<rect x="262.22" y="545.32" width="48.54" height="24.28" fill="#cc5500"/>
<rect x="310.76" y="545.32" width="72.81" height="24.28" fill="#ffad65"/>
<rect x="383.57" y="545.32" width="24.27" height="24.28" fill="#ffe5cb"/>
<rect x="407.84" y="545.32" width="24.27" height="24.28" fill="#b2ffff"/>
<rect x="432.11" y="545.32" width="24.27" height="24.28" fill="#ffe5cb"/>
<rect x="456.38" y="545.32" width="24.27" height="24.28" fill="#cc5500"/>
<rect x="674.81" y="545.32" width="24.27" height="24.28" fill="#ffad65"/>
<rect x="699.08" y="545.32" width="24.27" height="24.28" fill="#cc5500"/>
<rect x="723.35" y="545.32" width="24.27" height="24.28" fill="#ffad65"/>
<rect x="747.62" y="545.32" width="24.27" height="24.28" fill="#66ffff"/>
<rect x="771.89" y="545.32" width="72.81" height="24.28" fill="#00cccc"/>
<rect x="844.70" y="545.32" width="72.81" height="24.28" fill="#66ffff"/>
<rect x="917.51" y="545.32" width="48.54" height="24.28" fill="#ffe5cb"/>
<rect x="966.05" y="545.32" width="24.27" height="24.28" fill="#ffad65"/>
<rect x="990.32" y="545.32" width="24.27" height="24.28" fill="#ffe5cb"/>
<rect x="1014.59" y="545.32" width="24.27" height="24.28" fill="#ffad65"/>
<rect x="1038.86" y="545.32" width="24.27" height="24.28" fill="#cc5500"/>
<rect x="1063.13" y="545.32" width="48.54" height="24.28" fill="#ffad65"/>
<rect x="1111.67" y="545.32" width="24.27" height="24.28" fill="#cc5500"/>
<rect x="1135.94" y="545.32" width="24.27" height="24.28" fill="#ffad65"/>
<rect x="1160.21" y="545.32" width="48.54" height="24.28" fill="#cc5500"/>
<rect x="1208.75" y="545.32" width="24.27" height="24.28" fill="#ffad65"/>
<rect x="1233.02" y="545.32" width="24.27" height="24.28" fill="#ffe5cb"/>
<rect x="1257.29" y="545.32" width="48.54" height="24.28" fill="#66ffff"/>
<rect x="1305.83" y="545.32" width="24.27" height="24.28" fill="#b2ffff"/>
<rect x="1427.18" y="545.32" width="24.27" height="24.28" fill="#b2ffff"/>
<rect x="1451.45" y="545.32" width="121.35" height="24.28" fill="#ffad65"/>
<rect x="1572.80" y="545.32" width="24.27" height="24.28" fill="#ffe5cb"/>
<rect x="1597.07" y="545.32" width="24.27" height="24.28" fill="#b2ffff"/>
<rect x="1621.34" y="545.32" width="24.27" height="24.28" fill="#ffe5cb"/>
<rect x="1645.61" y="545.32" width="48.54" height="24.28" fill="#b2ffff"/>
<rect x="1694.15" y="545.32" width="24.27" height="24.28" fill="#ffe5cb"/>
<rect x="1718.42" y="545.32" width="24.27" height="24.28" fill="#ffad65"/>
<rect x="92.33" y="569.60" width="48.54" height="24.28" fill="#ffe5cb"/>
<rect x="140.87" y="569.60" width="121.35" height="24.28" fill="#66ffff"/>
<rect x="262.22" y="569.60" width="24.27" height="24.28" fill="#b2ffff"/>
<rect x="286.49" y="569.60" width="24.27" height="24.28" fill="#66ffff"/>
<rect x="310.76" y="569.60" width="48.54" height="24.28" fill="#ffad65"/>
<rect x="359.30" y="569.60" width="24.27" height="24.28" fill="#ffe5cb"/>
<rect x="383.57" y="569.60" width="24.27" height="24.28" fill="#b2ffff"/>
<rect x="407.84" y="569.60" width="24.27" height="24.28" fill="#66ffff"/>
<rect x="432.11" y="569.60" width="24.27" height="24.28" fill="#ffad65"/>
<rect x="456.38" y="569.60" width="24.27" height="24.28" fill="#cc5500"/>
<rect x="674.81" y="569.60" width="72.81" height="24.28" fill="#cc5500"/>
<rect x="747.62" y="569.60" width="24.27" height="24.28" fill="#ffe5cb"/>
<rect x="771.89" y="569.60" width="24.27" height="24.28" fill="#66ffff"/>
<rect x="796.16" y="569.60" width="24.27" height="24.28" fill="#00cccc"/>
<rect x="820.43" y="569.60" width="24.27" height="24.28" fill="#006666"/>
<rect x="844.70" y="569.60" width="24.27" height="24.28" fill="#66ffff"/>
<rect x="868.97" y="569.60" width="24.27" height="24.28" fill="#ffe5cb"/>
<rect x="893.24" y="569.60" width="24.27" height="24.28" fill="#b2ffff"/>
<rect x="917.51" y="569.60" width="24.27" height="24.28" fill="#66ffff"/>
<rect x="941.78" y="569.60" width="24.27" height="24.28" fill="#ffe5cb"/>
<rect x="966.05" y="569.60" width="24.27" height="24.28" fill="#b2ffff"/>
<rect x="990.32" y="569.60" width="24.27" height="24.28" fill="#00cccc"/>
<rect x="1014.59" y="569.60" width="24.27" height="24.28" fill="#66ffff"/>
<rect x="1038.86" y="569.60" width="72.81" height="24.28" fill="#ffad65"/>
<rect x="1111.67" y="569.60" width="72.81" height="24.28" fill="#cc5500"/>
<rect x="1184.48" y="569.60" width="72.81" height="24.28" fill="#ffad65"/>
<rect x="1257.29" y="569.60" width="48.54" height="24.28" fill="#66ffff"/>
<rect x="1305.83" y="569.60" width="24.27" height="24.28" fill="#ffe5cb"/>
<rect x="1427.18" y="569.60" width="24.27" height="24.28" fill="#ffe5cb"/>
<rect x="1451.45" y="569.60" width="24.27" height="24.28" fill="#ffad65"/>
<rect x="1475.72" y="569.60" width="24.27" height="24.28" fill="#b2ffff"/>
<rect x="1499.99" y="569.60" width="24.27" height="24.28" fill="#66ffff"/>
<rect x="1524.26" y="569.60" width="24.27" height="24.28" fill="#ffad65"/>
<rect x="1548.53" y="569.60" width="48.54" height="24.28" fill="#cc5500"/>
<rect x="1597.07" y="569.60" width="48.54" height="24.28" fill="#ffad65"/>
<rect x="1645.61" y="569.60" width="48.54" height="24.28" fill="#cc5500"/>
<rect x="1694.15" y="569.60" width="48.54" height="24.28" fill="#ffad65"/>
<rect x="92.33" y="593.88" width="48.54" height="24.28" fill="#ffe5cb"/>
<rect x="140.87" y="593.88" width="24.27" height="24.28" fill="#b2ffff"/>
<rect x="165.14" y="593.88" width="24.27" height="24.28" fill="#66ffff"/>
<rect x="189.41" y="593.88" width="24.27" height="24.28" fill="#00cccc"/>
<rect x="213.68" y="593.88" width="24.27" height="24.28" fill="#ffe5cb"/>
<rect x="237.95" y="593.88" width="24.27" height="24.28" fill="#ffad65"/>
<rect x="262.22" y="593.88" width="24.27" height="24.28" fill="#ffe5cb"/>
<rect x="286.49" y="593.88" width="48.54" height="24.28" fill="#b2ffff"/>
<rect x="335.03" y="593.88" width="24.27" height="24.28" fill="#ffe5cb"/>
<rect x="359.30" y="593.88" width="24.27" height="24.28" fill="#b2ffff"/>
<rect x="383.57" y="593.88" width="72.81" height="24.28" fill="#66ffff"/>
<rect x="456.38" y="593.88" width="24.27" height="24.28" fill="#ffe5cb"/>
<rect x="480.65" y="593.88" width="24.27" height="24.28" fill="#ffad65"/>
<rect x="504.92" y="593.88" width="24.27" height="24.28" fill="#cc5500"/>
<rect x="529.19" y="593.88" width="24.27" height="24.28" fill="#ffad65"/>
<rect x="553.46" y="593.88" width="48.54" height="24.28" fill="#cc5500"/>
<rect x="650.54" y="593.88" width="97.08" height="24.28" fill="#cc5500"/>
<rect x="747.62" y="593.88" width="48.54" height="24.28" fill="#ffad65"/>
<rect x="796.16" y="593.88" width="24.27" height="24.28" fill="#66ffff"/>
<rect x="820.43" y="593.88" width="48.54" height="24.28" fill="#00cccc"/>
<rect x="868.97" y="593.88" width="24.27" height="24.28" fill="#b2ffff"/>
<rect x="893.24" y="593.88" width="24.27" height="24.28" fill="#66ffff"/>
<rect x="917.51" y="593.88" width="24.27" height="24.28" fill="#00cccc"/>
<rect x="941.78" y="593.88" width="24.27" height="24.28" fill="#66ffff"/>
<rect x="966.05" y="593.88" width="24.27" height="24.28" fill="#ffe5cb"/>
<rect x="990.32" y="593.88" width="24.27" height="24.28" fill="#ffad65"/>
<rect x="1014.59" y="593.88" width="24.27" height="24.28" fill="#ffe5cb"/>
<rect x="1038.86" y="593.88" width="24.27" height="24.28" fill="#b2ffff"/>
<rect x="1063.13" y="593.88" width="145.62" height="24.28" fill="#ffad65"/>
<rect x="1208.75" y="593.88" width="24.27" height="24.28" fill="#cc5500"/>
<rect x="1233.02" y="593.88" width="24.27" height="24.28" fill="#ffad65"/>
<rect x="1257.29" y="593.88" width="24.27" height="24.28" fill="#ffe5cb"/>
<rect x="1281.56" y="593.88" width="24.27" height="24.28" fill="#b2ffff"/>
<rect x="1402.91" y="593.88" width="24.27" height="24.28" fill="#cc5500"/>
<rect x="1427.18" y="593.88" width="24.27" height="24.28" fill="#ffad65"/>
<rect x="1451.45" y="593.88" width="24.27" height="24.28" fill="#ffe5cb"/>
<rect x="1475.72" y="593.88" width="24.27" height="24.28" fill="#b2ffff"/>
<rect x="1499.99" y="593.88" width="48.54" height="24.28" fill="#00cccc"/>
<rect x="1548.53" y="593.88" width="24.27" height="24.28" fill="#ffe5cb"/>
<rect x="1572.80" y="593.88" width="24.27" height="24.28" fill="#cc5500"/>
<rect x="1597.07" y="593.88" width="24.27" height="24.28" fill="#ffad65"/>
<rect x="1621.34" y="593.88" width="97.08" height="24.28" fill="#cc5500"/>
<rect x="1718.42" y="593.88" width="24.27" height="24.28" fill="#ffad65"/>
<rect x="1742.69" y="593.88" width="24.27" height="24.28" fill="#ffe5cb"/>
<rect x="1766.96" y="593.88" width="24.27" height="24.28" fill="#b2ffff"/>
<rect x="1791.23" y="593.88" width="24.27" height="24.28" fill="#ffe5cb"/>
<rect x="92.33" y="618.17" width="48.54" height="24.28" fill="#ffad65"/>
<rect x="140.87" y="618.17" width="48.54" height="24.28" fill="#ffe5cb"/>
<rect x="189.41" y="618.17" width="48.54" height="24.28" fill="#66ffff"/>
<rect x="237.95" y="618.17" width="24.27" height="24.28" fill="#ffe5cb"/>
<rect x="262.22" y="618.17" width="24.27" height="24.28" fill="#ffad65"/>
<rect x="286.49" y="618.17" width="48.54" height="24.28" fill="#b2ffff"/>
<rect x="335.03" y="618.17" width="24.27" height="24.28" fill="#66ffff"/>
<rect x="359.30" y="618.17" width="24.27" height="24.28" fill="#b2ffff"/>
<rect x="383.57" y="618.17" width="72.81" height="24.28" fill="#66ffff"/>
<rect x="456.38" y="618.17" width="24.27" height="24.28" fill="#b2ffff"/>
<rect x="480.65" y="618.17" width="72.81" height="24.28" fill="#ffe5cb"/>
<rect x="553.46" y="618.17" width="48.54" height="24.28" fill="#ffad65"/>
<rect x="602.00" y="618.17" width="24.27" height="24.28" fill="#b2ffff"/>
<rect x="650.54" y="618.17" width="48.54" height="24.28" fill="#ffe5cb"/>
<rect x="699.08" y="618.17" width="48.54" height="24.28" fill="#ffad65"/>
<rect x="771.89" y="618.17" width="48.54" height="24.28" fill="#ffe5cb"/>
<rect x="820.43" y="618.17" width="24.27" height="24.28" fill="#b2ffff"/>
<rect x="844.70" y="618.17" width="24.27" height="24.28" fill="#66ffff"/>
<rect x="868.97" y="618.17" width="24.27" height="24.28" fill="#b2ffff"/>
<rect x="893.24" y="618.17" width="72.81" height="24.28" fill="#66ffff"/>
<rect x="966.05" y="618.17" width="48.54" height="24.28" fill="#ffad65"/>
<rect x="1014.59" y="618.17" width="72.81" height="24.28" fill="#ffe5cb"/>
<rect x="1087.40" y="618.17" width="24.27" height="24.28" fill="#ffad65"/>
<rect x="1111.67" y="618.17" width="24.27" height="24.28" fill="#ffe5cb"/>
<rect x="1135.94" y="618.17" width="24.27" height="24.28" fill="#b2ffff"/>
<rect x="1160.21" y="618.17" width="24.27" height="24.28" fill="#ffad65"/>
<rect x="1184.48" y="618.17" width="24.27" height="24.28" fill="#b2ffff"/>
<rect x="1208.75" y="618.17" width="72.81" height="24.28" fill="#ffe5cb"/>
<rect x="1281.56" y="618.17" width="24.27" height="24.28" fill="#b2ffff"/>
<rect x="1354.37" y="618.17" width="72.81" height="24.28" fill="#ffad65"/>
<rect x="1427.18" y="618.17" width="24.27" height="24.28" fill="#ffe5cb"/>
<rect x="1451.45" y="618.17" width="48.54" height="24.28" fill="#b2ffff"/>
<rect x="1499.99" y="618.17" width="24.27" height="24.28" fill="#cc5500"/>
<rect x="1524.26" y="618.17" width="24.27" height="24.28" fill="#ffe5cb"/>
<rect x="1548.53" y="618.17" width="48.54" height="24.28" fill="#00cccc"/>
<rect x="1597.07" y="618.17" width="48.54" height="24.28" fill="#66ffff"/>
<rect x="1645.61" y="618.17" width="24.27" height="24.28" fill="#00cccc"/>
<rect x="1669.88" y="618.17" width="24.27" height="24.28" fill="#ffe5cb"/>
<rect x="1694.15" y="618.17" width="24.27" height="24.28" fill="#ffad65"/>
<rect x="1718.42" y="618.17" width="97.08" height="24.28" fill="#b2ffff"/>
<rect x="92.33" y="642.45" width="48.54" height="24.28" fill="#b2ffff"/>
<rect x="140.87" y="642.45" width="72.81" height="24.28" fill="#ffe5cb"/>
<rect x="213.68" y="642.45" width="24.27" height="24.28" fill="#66ffff"/>
<rect x="237.95" y="642.45" width="24.27" height="24.28" fill="#b2ffff"/>
<rect x="262.22" y="642.45" width="24.27" height="24.28" fill="#66ffff"/>
<rect x="286.49" y="642.45" width="72.81" height="24.28" fill="#b2ffff"/>
<rect x="359.30" y="642.45" width="24.27" height="24.28" fill="#ffe5cb"/>
<rect x="383.57" y="642.45" width="24.27" height="24.28" fill="#b2ffff"/>
<rect x="407.84" y="642.45" width="121.35" height="24.28" fill="#66ffff"/>
<rect x="529.19" y="642.45" width="24.27" height="24.28" fill="#ffe5cb"/>
<rect x="553.46" y="642.45" width="48.54" height="24.28" fill="#66ffff"/>
<rect x="602.00" y="642.45" width="24.27" height="24.28" fill="#ffe5cb"/>
<rect x="626.27" y="642.45" width="24.27" height="24.28" fill="#b2ffff"/>
<rect x="650.54" y="642.45" width="24.27" height="24.28" fill="#ffe5cb"/>
<rect x="674.81" y="642.45" width="24.27" height="24.28" fill="#b2ffff"/>
<rect x="699.08" y="642.45" width="48.54" height="24.28" fill="#66ffff"/>
<rect x="747.62" y="642.45" width="72.81" height="24.28" fill="#b2ffff"/>
<rect x="820.43" y="642.45" width="24.27" height="24.28" fill="#00cccc"/>
<rect x="844.70" y="642.45" width="145.62" height="24.28" fill="#66ffff"/>
<rect x="990.32" y="642.45" width="72.81" height="24.28" fill="#ffe5cb"/>
<rect x="1063.13" y="642.45" width="24.27" height="24.28" fill="#b2ffff"/>
<rect x="1087.40" y="642.45" width="24.27" height="24.28" fill="#66ffff"/>
<rect x="1111.67" y="642.45" width="72.81" height="24.28" fill="#00cccc"/>
<rect x="1184.48" y="642.45" width="121.35" height="24.28" fill="#66ffff"/>
<rect x="1354.37" y="642.45" width="24.27" height="24.28" fill="#ffad65"/>
<rect x="1378.64" y="642.45" width="24.27" height="24.28" fill="#ffe5cb"/>
<rect x="1402.91" y="642.45" width="72.81" height="24.28" fill="#ffad65"/>
<rect x="1475.72" y="642.45" width="24.27" height="24.28" fill="#b2ffff"/>
<rect x="1499.99" y="642.45" width="24.27" height="24.28" fill="#ffe5cb"/>
<rect x="1524.26" y="642.45" width="24.27" height="24.28" fill="#66ffff"/>
<rect x="1548.53" y="642.45" width="24.27" height="24.28" fill="#b2ffff"/>
<rect x="1572.80" y="642.45" width="24.27" height="24.28" fill="#66ffff"/>
<rect x="1597.07" y="642.45" width="48.54" height="24.28" fill="#00cccc"/>
<rect x="1645.61" y="642.45" width="24.27" height="24.28" fill="#006666"/>
<rect x="1669.88" y="642.45" width="72.81" height="24.28" fill="#00cccc"/>
<rect x="1742.69" y="642.45" width="72.81" height="24.28" fill="#66ffff"/>
<rect x="92.33" y="666.73" width="24.27" height="24.28" fill="#00cccc"/>
<rect x="116.60" y="666.73" width="97.08" height="24.28" fill="#66ffff"/>
<rect x="213.68" y="666.73" width="72.81" height="24.28" fill="#00cccc"/>
<rect x="286.49" y="666.73" width="48.54" height="24.28" fill="#66ffff"/>
<rect x="335.03" y="666.73" width="24.27" height="24.28" fill="#00cccc"/>
<rect x="359.30" y="666.73" width="24.27" height="24.28" fill="#66ffff"/>
<rect x="383.57" y="666.73" width="24.27" height="24.28" fill="#00cccc"/>
<rect x="407.84" y="666.73" width="24.27" height="24.28" fill="#66ffff"/>
<rect x="432.11" y="666.73" width="48.54" height="24.28" fill="#00cccc"/>
<rect x="480.65" y="666.73" width="145.62" height="24.28" fill="#66ffff"/>
<rect x="626.27" y="666.73" width="24.27" height="24.28" fill="#b2ffff"/>
<rect x="650.54" y="666.73" width="48.54" height="24.28" fill="#66ffff"/>
<rect x="699.08" y="666.73" width="48.54" height="24.28" fill="#00cccc"/>
<rect x="747.62" y="666.73" width="48.54" height="24.28" fill="#66ffff"/>
<rect x="796.16" y="666.73" width="72.81" height="24.28" fill="#00cccc"/>
<rect x="868.97" y="666.73" width="24.27" height="24.28" fill="#66ffff"/>
<rect x="893.24" y="666.73" width="169.89" height="24.28" fill="#00cccc"/>
<rect x="1063.13" y="666.73" width="48.54" height="24.28" fill="#66ffff"/>
<rect x="1111.67" y="666.73" width="48.54" height="24.28" fill="#00cccc"/>
<rect x="1160.21" y="666.73" width="121.35" height="24.28" fill="#66ffff"/>
<rect x="1281.56" y="666.73" width="24.27" height="24.28" fill="#00cccc"/>
<rect x="1354.37" y="666.73" width="24.27" height="24.28" fill="#b2ffff"/>
<rect x="1378.64" y="666.73" width="24.27" height="24.28" fill="#66ffff"/>
<rect x="1402.91" y="666.73" width="48.54" height="24.28" fill="#b2ffff"/>
<rect x="1451.45" y="666.73" width="97.08" height="24.28" fill="#66ffff"/>
<rect x="1548.53" y="666.73" width="121.35" height="24.28" fill="#00cccc"/>
<rect x="1669.88" y="666.73" width="48.54" height="24.28" fill="#006666"/>
<rect x="1718.42" y="666.73" width="97.08" height="24.28" fill="#00cccc"/>
<rect x="92.33" y="691.02" width="72.81" height="24.28" fill="#00cccc"/>
<rect x="165.14" y="691.02" width="24.27" height="24.28" fill="#66ffff"/>
<rect x="189.41" y="691.02" width="97.08" height="24.28" fill="#00cccc"/>
<rect x="286.49" y="691.02" width="24.27" height="24.28" fill="#66ffff"/>
<rect x="310.76" y="691.02" width="97.08" height="24.28" fill="#00cccc"/>
<rect x="407.84" y="691.02" width="48.54" height="24.28" fill="#66ffff"/>
<rect x="456.38" y="691.02" width="121.35" height="24.28" fill="#00cccc"/>
<rect x="577.73" y="691.02" width="24.27" height="24.28" fill="#66ffff"/>
<rect x="602.00" y="691.02" width="97.08" height="24.28" fill="#00cccc"/>
<rect x="699.08" y="691.02" width="48.54" height="24.28" fill="#006666"/>
<rect x="747.62" y="691.02" width="485.40" height="24.28" fill="#00cccc"/>
<rect x="1233.02" y="691.02" width="48.54" height="24.28" fill="#66ffff"/>
<rect x="1281.56" y="691.02" width="48.54" height="24.28" fill="#00cccc"/>
<rect x="1330.10" y="691.02" width="97.08" height="24.28" fill="#66ffff"/>
<rect x="1427.18" y="691.02" width="24.27" height="24.28" fill="#b2ffff"/>
<rect x="1451.45" y="691.02" width="72.81" height="24.28" fill="#66ffff"/>
<rect x="1524.26" y="691.02" width="24.27" height="24.28" fill="#b2ffff"/>
<rect x="1548.53" y="691.02" width="24.27" height="24.28" fill="#66ffff"/>
<rect x="1572.80" y="691.02" width="48.54" height="24.28" fill="#00cccc"/>
<rect x="1621.34" y="691.02" width="48.54" height="24.28" fill="#66ffff"/>
<rect x="1669.88" y="691.02" width="97.08" height="24.28" fill="#00cccc"/>
<rect x="1766.96" y="691.02" width="24.27" height="24.28" fill="#66ffff"/>
<rect x="1791.23" y="691.02" width="24.27" height="24.28" fill="#00cccc"/>
</g>
<path clip-path="url(#mc)" d="M-106.2 250.0 -110.6 258.8 -118.8 262.7 -122.7 266.5 -125.1 273.3 -124.2 276.3 -127.1 281.6 -131.4 285.0 -140.2 288.4 -147.5 296.2 -149.9 302.5 -154.7 308.8 -157.2 314.6 -160.3 322.9 -156.7 329.7 -155.7 334.1 -157.7 345.2 -160.8 352.5 -159.1 358.3 -158.6 363.7 -152.8 368.0 -148.9 372.4 -143.6 377.3 -141.6 382.6 -137.7 388.4 -132.9 390.9 -127.6 393.8 -121.2 399.6 -114.0 402.5 -106.7 400.6 -97.0 398.6 -87.3 400.6 -77.6 396.7 -70.3 393.8 -63.0 392.8 -55.7 393.3 -50.4 398.2 -48.4 403.0 -43.6 402.5 -37.3 401.6 -33.9 404.5 -30.5 406.9 -30.0 412.7 -31.4 419.0 -32.4 422.4 -33.9 427.3 -30.0 436.0 -23.7 442.8 -20.3 447.2 -17.9 453.0 -13.5 465.7 -12.5 468.6 -10.6 477.3 -12.0 484.6 -16.9 490.9 -19.3 500.1 -20.3 507.4 -17.4 514.2 -13.0 521.0 -7.7 531.7 -7.2 535.1 -5.2 547.7 -3.8 555.0 2.5 562.8 6.4 572.0 10.8 578.3 9.8 583.2 11.8 589.0 13.7 591.0 18.1 592.9 19.5 592.9 26.8 591.0 31.7 589.0 38.9 589.5 46.7 589.0 51.1 587.6 57.9 584.2 63.2 578.8 69.5 574.9 72.9 568.6 77.8 562.8 80.2 557.5 82.1 550.2 80.7 547.7 85.0 546.3 92.3 542.9 94.8 538.0 93.8 530.7 92.3 523.5 90.9 520.1 97.2 515.2 102.0 509.9 111.3 506.5 116.6 501.6 120.0 494.3 119.0 484.6 118.5 474.9 115.1 462.8 113.2 456.9 111.3 450.6 114.7 444.3 117.6 437.5 123.9 432.2 128.7 426.3 133.6 420.0 142.3 414.2 149.1 407.9 155.4 399.6 160.3 391.4 164.2 382.6 169.0 373.9 171.5 366.6 165.1 368.0 157.9 369.5 145.7 371.9 138.4 373.4 132.1 368.0 130.2 363.2 126.3 358.3 120.5 352.5 114.2 348.1 109.8 338.9 104.0 332.1 103.0 324.3 101.6 317.1 95.2 307.8 92.3 300.1 87.5 292.8 85.0 288.9 80.7 278.7 79.2 271.9 72.9 270.4 67.6 272.4 58.4 272.9 44.8 270.4 38.9 268.5 34.1 265.6 26.8 264.1 20.0 268.0 19.0 273.3 14.7 276.7 7.4 273.3 -1.8 270.4 -3.8 267.0 -13.5 264.1 -21.7 262.7 -26.6 258.8 -24.7 253.9 -26.6 247.1 -24.2 243.7 -28.0 243.2 -30.0 242.7 -36.3 244.7 -46.0 244.2 -53.3 245.2 -63.0 245.2 -72.7 246.6 -82.4 250.5 -88.2 253.4 -94.5 252.9 -103.3 249.5 -106.2 250.0 M1641.2 250.0 1636.9 258.8 1628.6 262.7 1624.7 266.5 1622.3 273.3 1623.3 276.3 1620.4 281.6 1616.0 285.0 1607.3 288.4 1600.0 296.2 1597.6 302.5 1592.7 308.8 1590.3 314.6 1587.1 322.9 1590.8 329.7 1591.7 334.1 1589.8 345.2 1586.6 352.5 1588.3 358.3 1588.8 363.7 1594.6 368.0 1598.5 372.4 1603.9 377.3 1605.8 382.6 1609.7 388.4 1614.5 390.9 1619.9 393.8 1626.2 399.6 1633.5 402.5 1640.8 400.6 1650.5 398.6 1660.2 400.6 1669.9 396.7 1677.2 393.8 1684.4 392.8 1691.7 393.3 1697.1 398.2 1699.0 403.0 1703.9 402.5 1710.2 401.6 1713.6 404.5 1717.0 406.9 1717.4 412.7 1716.0 419.0 1715.0 422.4 1713.6 427.3 1717.4 436.0 1723.8 442.8 1727.2 447.2 1729.6 453.0 1734.0 465.7 1734.9 468.6 1736.9 477.3 1735.4 484.6 1730.6 490.9 1728.1 500.1 1727.2 507.4 1730.1 514.2 1734.4 521.0 1739.8 531.7 1740.3 535.1 1742.2 547.7 1743.7 555.0 1750.0 562.8 1753.9 572.0 1758.2 578.3 1757.3 583.2 1759.2 589.0 1761.1 591.0 1765.5 592.9 1767.0 592.9 1774.2 591.0 1779.1 589.0 1786.4 589.5 1794.1 589.0 1798.5 587.6 1805.3 584.2 1810.6 578.8 1817.0 574.9 1820.4 568.6 1825.2 562.8 1827.6 557.5 1829.6 550.2 1828.1 547.7 1832.5 546.3 1839.8 542.9 1842.2 538.0 1841.2 530.7 1839.8 523.5 1838.3 520.1 1844.6 515.2 1849.5 509.9 1858.7 506.5 1864.0 501.6 1867.4 494.3 1866.5 484.6 1866.0 474.9 1862.6 462.8 1860.6 456.9 1858.7 450.6 1862.1 444.3 1865.0 437.5 1871.3 432.2 1876.2 426.3 1881.0 420.0 1889.8 414.2 1896.6 407.9 1902.9 399.6 1907.7 391.4 1911.6 382.6 1916.5 373.9 1918.9 366.6 1912.6 368.0 1905.3 369.5 1893.2 371.9 1885.9 373.4 1879.6 368.0 1877.6 363.2 1873.7 358.3 1867.9 352.5 1861.6 348.1 1857.2 338.9 1851.4 332.1 1850.4 324.3 1849.0 317.1 1842.7 307.8 1839.8 300.1 1834.9 292.8 1832.5 288.9 1828.1 278.7 1826.7 271.9 1820.4 270.4 1815.0 272.4 1805.8 272.9 1792.2 270.4 1786.4 268.5 1781.5 265.6 1774.2 264.1 1767.4 268.0 1766.5 273.3 1762.1 276.7 1754.8 273.3 1745.6 270.4 1743.7 267.0 1734.0 264.1 1725.7 262.7 1720.8 258.8 1722.8 253.9 1720.8 247.1 1723.3 243.7 1719.4 243.2 1717.4 242.7 1711.1 244.7 1701.4 244.2 1694.2 245.2 1684.4 245.2 1674.7 246.6 1665.0 250.5 1659.2 253.4 1652.9 252.9 1644.2 249.5 1641.2 250.0 M161.7 482.2 165.1 489.5 167.6 499.2 165.1 504.0 162.2 511.3 158.3 523.5 154.5 535.6 151.1 544.8 143.3 548.2 136.0 545.3 134.1 538.0 132.6 529.8 138.0 521.0 136.0 508.9 138.0 502.6 147.2 500.1 153.0 494.3 155.4 489.0 161.7 482.2 M80.7 278.7 85.5 287.9 88.9 288.9 90.9 284.0 91.8 280.6 93.3 287.9 99.6 297.6 104.5 304.9 109.3 312.2 112.7 319.5 119.0 329.2 123.9 338.9 128.7 346.2 130.2 353.5 132.6 362.2 136.0 362.7 140.9 361.7 150.6 358.3 158.8 355.9 165.1 352.0 175.8 348.1 182.1 343.8 189.4 339.9 196.7 337.0 201.5 332.1 206.4 324.8 212.7 315.1 208.8 312.7 206.9 309.3 201.5 307.8 196.2 303.0 195.7 296.2 194.3 299.1 191.8 300.5 186.5 305.9 179.7 306.9 172.9 305.9 171.5 300.5 172.9 298.1 171.0 297.1 169.0 303.5 166.1 300.1 164.2 293.7 158.8 288.9 155.4 281.1 158.3 278.2 162.7 278.2 166.6 282.1 171.5 288.4 177.3 291.3 184.6 294.7 191.8 293.7 195.7 291.8 200.6 298.6 208.8 300.5 221.4 301.5 230.7 301.0 245.7 300.5 249.1 303.5 253.5 308.8 256.4 312.7 263.2 314.1 257.9 315.1 262.2 321.9 267.1 322.9 274.8 320.5 275.8 329.2 276.3 336.5 278.2 343.8 280.7 349.1 284.1 358.3 286.5 365.6 290.4 370.5 292.8 376.8 296.2 383.6 298.6 384.6 302.0 380.7 305.9 378.7 307.4 373.9 309.8 368.0 312.2 360.3 311.2 351.0 315.1 347.2 321.4 343.3 327.3 337.9 334.1 330.7 341.8 326.8 344.7 319.5 350.6 318.5 355.9 318.0 361.7 316.6 366.6 314.6 369.0 319.5 370.5 323.4 376.3 329.2 379.7 335.5 381.1 345.2 385.5 347.2 390.9 343.8 396.2 343.8 397.2 352.0 400.6 360.8 401.0 368.0 400.1 376.3 399.6 384.1 404.0 389.9 408.8 394.8 409.8 399.6 412.2 405.4 414.6 410.8 420.0 414.7 424.8 417.6 428.2 416.6 424.8 410.3 424.3 403.5 420.5 395.7 415.1 390.9 409.3 387.5 408.8 381.2 404.4 377.8 404.0 371.4 405.9 365.6 407.8 358.8 412.2 358.3 412.7 362.2 419.0 365.6 422.4 370.5 429.7 373.4 431.1 381.6 432.6 382.1 439.9 377.3 442.8 373.4 451.0 369.0 453.0 363.2 452.5 356.9 450.6 349.6 447.6 345.7 441.8 341.3 438.9 336.5 435.5 331.6 437.0 326.8 440.8 323.4 445.7 319.5 449.1 319.0 454.9 319.0 457.4 323.9 458.3 321.9 463.7 319.5 468.5 318.0 473.4 316.1 477.3 315.1 483.1 313.2 488.9 310.7 492.8 308.8 495.7 304.9 500.1 301.0 503.0 297.6 505.4 294.2 508.3 287.9 512.2 284.0 514.1 278.7 509.8 276.3 514.1 273.3 509.8 268.5 509.3 265.6 506.4 257.3 501.5 253.9 506.4 249.1 509.8 246.1 517.1 242.3 512.2 241.3 508.3 240.3 502.5 243.2 499.1 240.3 495.2 236.9 493.3 235.0 494.7 233.0 501.5 232.1 504.9 229.6 509.8 225.7 515.6 227.2 512.2 232.1 510.7 235.5 514.6 233.0 519.5 231.1 525.8 229.6 528.2 231.6 531.1 234.5 529.7 238.4 534.0 240.8 537.0 243.2 536.5 247.6 536.5 253.4 536.0 256.8 541.3 255.4 546.2 253.9 550.1 252.5 551.0 249.1 550.5 244.2 547.6 239.3 545.2 236.4 541.3 232.1 546.2 229.6 552.0 225.3 553.5 219.9 556.9 218.5 559.8 216.0 564.6 214.1 569.0 216.0 575.3 213.6 580.2 210.7 587.4 204.9 593.3 198.1 595.2 193.2 599.6 188.4 603.5 183.5 604.4 178.6 606.9 172.8 608.3 168.9 606.9 165.0 603.5 164.1 599.6 161.6 594.7 160.2 589.9 162.6 587.4 160.7 582.6 159.2 578.7 158.2 585.0 154.8 589.9 151.9 594.7 148.0 602.0 142.7 609.3 139.3 614.1 136.4 620.4 135.4 628.7 135.4 636.0 135.9 643.3 135.4 650.5 134.4 657.8 136.4 665.1 136.9 672.4 135.4 674.8 130.1 M701.5 127.6 691.8 138.3 686.9 142.2 681.1 147.1 679.7 156.8 681.1 166.5 683.1 176.2 687.9 173.3 693.3 166.5 699.1 160.7 708.8 154.4 707.8 149.5 711.2 146.1 714.6 143.2 710.2 139.8 716.1 134.9 723.3 131.5 M-104.7 249.1 -98.9 245.7 -87.8 245.7 -80.0 237.9 -76.6 235.5 -79.0 232.1 -73.2 224.8 -62.0 220.4 -62.5 214.6 -58.1 212.6 -51.3 214.1 -41.2 211.2 -34.8 208.3 -28.0 210.7 -26.6 215.5 -20.3 219.4 -14.5 223.8 -8.1 225.7 -1.8 229.6 -1.4 238.4 0.6 239.3 3.0 235.5 5.4 232.5 3.0 228.7 7.4 228.2 12.2 229.1 9.8 226.7 0.1 222.8 -8.6 217.5 -12.0 212.1 -17.9 207.8 -17.4 203.4 -11.1 202.4 -11.5 205.3 -7.2 203.9 -2.3 210.7 5.0 214.1 12.2 218.0 16.6 220.9 17.1 225.7 19.5 231.1 24.9 236.9 27.3 241.8 31.2 246.6 34.6 242.7 34.1 239.3 38.9 238.4 33.1 233.5 32.1 228.2 36.5 228.2 40.9 225.3 48.6 225.7 49.6 228.2 50.6 232.1 52.5 236.9 54.5 241.8 58.4 245.7 65.6 248.1 71.0 245.2 77.8 246.6 85.0 248.1 90.4 245.2 94.8 246.1 98.2 246.1 96.2 250.0 96.7 253.9 94.8 259.3 92.8 263.6 91.4 268.0 88.9 271.9 79.2 271.9 M1642.7 249.1 1648.5 245.7 1659.7 245.7 1667.5 237.9 1670.9 235.5 1668.4 232.1 1674.2 224.8 1685.4 220.4 1684.9 214.6 1689.3 212.6 1696.1 214.1 1706.3 211.2 1712.6 208.3 1719.4 210.7 1720.8 215.5 1727.2 219.4 1733.0 223.8 1739.3 225.7 1745.6 229.6 1746.1 238.4 1748.0 239.3 1750.5 235.5 1752.9 232.5 1750.5 228.7 1754.8 228.2 1759.7 229.1 1757.3 226.7 1747.5 222.8 1738.8 217.5 1735.4 212.1 1729.6 207.8 1730.1 203.4 1736.4 202.4 1735.9 205.3 1740.3 203.9 1745.1 210.7 1752.4 214.1 1759.7 218.0 1764.0 220.9 1764.5 225.7 1767.0 231.1 1772.3 236.9 1774.7 241.8 1778.6 246.6 1782.0 242.7 1781.5 239.3 1786.4 238.4 1780.6 233.5 1779.6 228.2 1783.9 228.2 1788.3 225.3 1796.1 225.7 1797.1 228.2 1798.0 232.1 1800.0 236.9 1801.9 241.8 1805.8 245.7 1813.1 248.1 1818.4 245.2 1825.2 246.6 1832.5 248.1 1837.8 245.2 1842.2 246.1 1845.6 246.1 1843.7 250.0 1844.1 253.9 1842.2 259.3 1840.3 263.6 1838.8 268.0 1836.4 271.9 1826.7 271.9 M63.2 224.3 72.9 223.8 82.6 219.9 92.3 219.9 99.6 223.3 106.9 225.3 116.6 224.8 124.4 221.9 124.4 217.5 116.6 213.1 109.3 208.3 103.5 205.3 100.1 203.4 106.9 197.6 112.7 194.7 104.5 195.2 93.3 199.0 92.3 202.4 94.8 204.9 87.5 208.3 85.0 207.3 80.2 203.4 85.0 200.5 76.8 198.1 71.5 198.1 66.1 203.9 61.7 209.2 57.9 215.1 58.4 220.4 63.2 224.3 M1810.6 224.3 1820.4 223.8 1830.1 219.9 1839.8 219.9 1847.1 223.3 1854.3 225.3 1864.0 224.8 1871.8 221.9 1871.8 217.5 1864.0 213.1 1856.8 208.3 1850.9 205.3 1847.5 203.4 1854.3 197.6 1860.2 194.7 1851.9 195.2 1840.7 199.0 1839.8 202.4 1842.2 204.9 1834.9 208.3 1832.5 207.3 1827.6 203.4 1832.5 200.5 1824.2 198.1 1818.9 198.1 1813.6 203.9 1809.2 209.2 1805.3 215.1 1805.8 220.4 1810.6 224.3 M205.4 202.9 211.3 199.0 218.5 197.1 222.4 202.9 216.1 208.7 208.8 212.6 205.9 207.8 205.4 202.9 M279.2 201.0 283.1 197.1 291.3 197.6 298.6 198.1 306.9 196.6 305.9 198.6 298.6 200.0 291.3 199.5 286.5 201.5 282.6 204.4 279.2 205.3 278.7 202.9 279.2 201.0 M425.8 172.8 431.1 174.3 437.9 170.4 445.2 166.5 450.6 160.7 455.4 154.4 454.4 152.9 449.6 157.8 443.3 163.6 437.0 166.5 431.1 171.4 425.8 172.8 M150.6 207.8 159.3 198.1 165.1 198.1 179.7 196.6 179.7 203.9 171.5 207.8 171.0 212.6 178.2 219.9 179.7 227.2 184.1 232.1 184.1 242.7 172.4 245.2 164.7 241.8 159.8 236.9 162.7 228.7 157.9 220.9 153.0 215.1 150.6 207.8 M310.3 376.3 312.2 378.2 316.6 382.6 319.5 388.0 319.0 392.3 313.7 395.2 310.8 392.8 309.8 387.5 309.8 381.2 310.3 376.3 M385.0 396.7 395.7 398.6 401.5 405.4 407.8 411.8 415.1 415.6 422.4 421.5 426.3 428.8 429.7 433.6 437.0 439.4 436.5 452.1 430.2 452.6 424.8 447.7 419.0 443.3 412.7 436.0 409.3 428.8 404.4 422.4 401.0 415.6 395.7 409.3 389.9 403.0 385.0 396.7 M433.1 456.9 437.0 452.6 444.2 454.0 449.1 455.5 458.3 457.4 463.7 456.0 469.5 457.9 477.7 461.3 478.7 466.2 468.5 464.7 458.8 463.2 446.7 461.3 438.9 459.8 433.1 456.9 M478.2 463.2 481.6 463.2 484.0 465.2 481.6 466.6 478.2 464.7 478.2 463.2 M485.5 464.2 488.9 464.2 488.4 467.1 485.5 466.6 485.5 464.2 M489.4 465.2 494.2 463.2 500.6 463.7 500.1 466.2 492.8 467.6 489.4 466.6 489.4 465.2 M503.9 465.2 509.8 464.2 519.5 463.7 518.5 466.2 509.8 467.1 504.4 466.6 503.9 465.2 M521.9 473.9 526.8 469.1 530.2 465.7 540.4 464.7 536.5 467.1 529.2 470.5 524.3 473.9 521.9 473.9 M500.1 470.0 504.9 469.6 508.8 473.0 503.9 473.4 500.1 471.5 500.1 470.0 M451.5 416.6 454.4 414.2 461.2 416.6 470.9 408.4 475.8 401.6 483.1 398.6 487.9 392.3 491.8 390.9 493.8 395.2 501.0 399.1 495.2 402.0 494.2 409.3 495.2 419.0 500.1 420.0 492.8 423.9 492.3 428.8 487.9 433.6 487.0 440.9 484.5 443.3 478.2 440.9 470.9 439.4 463.7 438.5 457.4 438.5 456.4 431.2 453.0 426.3 451.5 421.5 451.5 416.6 M502.0 450.6 506.9 451.1 506.4 438.5 509.8 437.0 514.6 445.8 518.5 447.2 514.6 439.4 520.9 428.8 512.2 428.8 509.8 428.3 507.8 421.0 512.2 421.5 519.5 421.5 528.2 416.6 530.2 416.1 525.8 421.5 519.5 419.5 507.3 417.6 504.9 421.5 503.9 426.3 502.5 431.2 499.1 437.5 502.0 440.9 502.0 450.6 M541.3 413.2 543.8 416.6 547.1 419.0 543.8 421.5 548.1 423.9 544.7 427.8 541.8 423.9 541.3 419.0 541.3 413.2 M543.8 438.5 551.0 437.5 557.3 439.4 555.9 441.4 548.6 440.9 543.8 440.4 543.8 438.5 M534.0 439.4 538.9 439.0 539.9 441.4 535.0 442.4 534.0 439.4 M558.3 430.2 563.2 425.8 572.9 428.3 577.7 439.9 589.9 431.2 602.0 435.6 611.7 439.0 623.8 442.4 631.1 450.6 638.4 454.0 636.0 457.9 640.8 462.8 645.7 467.6 653.0 473.9 645.7 473.9 638.4 472.5 631.1 463.7 622.9 461.3 619.0 465.2 614.1 469.1 606.9 468.1 599.6 463.2 594.7 464.7 591.3 457.9 595.2 453.0 587.4 447.2 580.2 445.3 572.9 442.4 568.0 443.3 563.2 437.5 570.4 435.6 563.2 434.1 558.3 430.2 M642.8 450.6 650.5 448.2 657.8 444.3 661.7 445.3 657.8 450.6 651.5 454.0 643.3 453.0 642.8 450.6 M654.4 436.5 660.2 439.9 665.1 445.8 664.1 447.7 659.3 442.8 654.4 438.0 654.4 436.5 M507.3 334.1 512.2 333.6 516.1 334.5 515.6 341.3 512.7 347.2 513.2 353.5 517.1 354.9 524.3 360.8 523.9 362.7 518.5 358.3 513.2 356.9 507.8 356.4 507.8 352.5 504.9 351.0 503.9 344.7 506.4 343.8 507.3 334.1 M514.6 389.9 521.9 386.5 524.3 384.1 531.6 376.3 536.5 382.6 535.5 392.3 531.6 396.2 525.8 393.8 523.4 389.9 515.1 390.4 514.6 389.9 M525.8 363.2 530.6 364.2 533.1 370.5 529.2 375.3 528.2 370.5 525.8 368.0 525.8 363.2 M514.6 366.6 520.0 368.0 519.0 372.4 514.6 372.9 514.1 369.0 514.6 366.6 M518.5 371.0 521.9 372.9 520.5 379.2 517.1 376.3 518.5 371.0 M507.3 358.3 512.2 359.3 510.7 364.2 507.3 362.7 507.3 358.3 M491.3 383.6 497.6 377.8 503.5 369.0 501.5 370.5 495.2 378.7 491.3 383.6 M509.8 301.5 514.6 302.5 512.2 309.8 509.3 317.1 505.9 313.2 505.4 309.8 509.8 301.5 M449.6 330.7 454.0 326.3 459.8 326.8 461.2 328.7 458.8 333.6 454.0 335.5 450.1 334.1 449.6 330.7 M552.0 262.2 557.3 258.8 561.7 261.7 560.3 271.4 556.9 273.3 554.4 270.9 553.5 265.6 552.0 262.2 M565.6 262.2 568.0 258.8 575.8 257.8 576.3 259.7 572.9 262.2 568.0 264.6 565.6 262.2 M557.8 258.8 562.2 255.4 568.0 251.5 575.3 251.0 580.2 250.5 582.6 249.1 586.0 244.2 588.9 241.8 588.4 245.2 594.7 242.3 599.6 237.9 602.0 232.1 602.0 227.2 603.5 223.8 607.8 223.8 609.3 227.2 611.7 232.1 609.3 237.9 606.9 241.8 605.9 246.6 604.9 250.5 602.0 253.9 600.5 252.5 598.1 252.9 595.7 255.4 589.9 255.4 586.5 256.3 586.5 258.8 581.6 261.2 578.2 257.3 572.9 255.9 565.6 257.8 558.3 259.3 557.8 258.8 M602.0 222.3 606.9 220.9 610.7 217.0 618.0 219.9 628.7 213.6 627.7 208.7 619.0 208.7 611.2 202.9 609.8 207.3 608.8 213.6 603.9 214.1 602.0 217.5 602.0 222.3 M611.7 200.5 619.0 198.1 615.1 193.2 616.6 184.5 622.4 185.9 618.0 178.6 617.5 168.9 618.0 161.6 614.6 160.2 612.7 166.5 610.3 171.4 611.7 181.1 612.2 190.8 611.2 197.6 611.7 200.5 M869.0 130.1 871.4 132.5 881.1 133.0 884.5 138.8 893.2 139.3 902.9 138.8 906.8 141.2 900.5 147.6 893.2 151.9 884.5 153.9 876.3 157.3 869.5 158.7 878.7 155.8 888.4 152.4 898.1 149.5 905.4 145.6 912.7 143.2 919.5 139.3 925.8 136.4 932.1 132.5 935.5 134.9 941.8 133.5 949.1 132.5 956.3 129.6 M961.2 130.6 970.9 132.5 983.0 133.5 992.7 134.4 1002.5 138.8 1007.3 141.2 1014.6 146.1 1019.4 150.5 1024.3 155.8 1034.0 159.2 1037.4 161.6 1041.3 166.5 1046.1 171.4 1051.0 176.2 1060.7 179.6 1065.6 183.5 1071.9 185.9 1073.8 190.8 1064.6 188.8 1067.5 196.1 1068.0 210.2 1065.6 216.0 1067.0 224.8 1069.0 232.1 1075.3 240.3 1078.2 246.1 1084.5 255.9 1091.3 257.8 1095.7 260.2 1101.5 266.1 1104.4 270.9 1107.8 276.7 1113.6 285.5 1117.0 289.9 1122.3 295.2 1128.7 303.5 1135.0 311.2 1138.9 311.2 1134.5 305.9 1131.1 300.1 1126.2 292.8 1121.9 283.1 1116.5 275.8 1113.1 269.9 1115.6 270.9 1122.3 274.3 1126.2 283.1 1132.1 288.4 1138.4 295.2 1143.2 301.0 1150.5 308.3 1156.8 315.6 1157.8 324.3 1162.6 330.7 1167.5 335.0 1175.7 338.4 1185.0 342.3 1194.2 345.7 1201.5 347.7 1208.8 345.7 1213.6 345.7 1220.9 352.5 1225.7 355.9 1233.0 356.9 1238.8 359.8 1245.2 360.8 1247.6 363.2 1252.4 368.0 1253.9 370.5 1253.4 375.3 1257.3 376.3 1259.7 377.8 1264.6 382.6 1268.0 384.1 1274.3 386.5 1279.1 388.4 1281.6 383.6 1284.0 380.7 1288.8 383.6 1292.2 387.5 1293.7 390.9 1294.7 397.2 1293.7 405.4 1288.8 411.8 1286.4 417.6 1281.6 420.0 1279.6 427.3 1277.7 434.6 1280.1 440.4 1275.2 445.8 1275.7 453.0 1281.6 457.9 1286.4 463.7 1290.3 472.5 1296.1 482.2 1299.5 490.9 1305.8 499.2 1315.5 504.0 1322.8 508.9 1328.6 513.7 1329.1 525.9 1328.2 538.0 1327.2 547.7 1323.8 559.9 1322.8 572.0 1321.8 586.6 1317.5 596.3 1314.1 608.5 1313.1 618.2 1311.7 625.5 1315.5 627.9 1310.7 637.6 1303.4 647.3 1308.3 651.2 1303.4 659.4 1305.8 671.6 1310.7 678.9 1318.0 682.8 1325.2 685.2 1330.1 680.3 1337.9 678.4 1335.0 676.4 1337.4 669.2 1342.2 661.9 1349.5 654.6 1342.2 649.7 1345.6 643.4 1352.9 640.0 1355.3 632.7 1360.7 631.3 1356.8 630.3 1354.4 623.0 1361.7 624.0 1368.0 620.6 1367.5 612.8 1373.8 613.3 1383.5 611.9 1390.8 608.5 1393.2 601.2 1392.2 596.3 1386.4 591.9 1385.9 589.0 1390.8 591.5 1398.1 593.4 1405.3 592.9 1410.2 589.0 1415.0 584.2 1422.3 576.9 1427.2 569.6 1433.0 562.3 1434.0 555.0 1436.9 547.7 1444.2 541.4 1451.5 538.5 1460.2 535.6 1468.4 533.2 1473.3 524.9 1477.2 518.6 1479.6 508.9 1480.6 496.8 1483.0 487.0 1487.9 482.2 1492.7 474.9 1499.0 467.6 1501.0 460.3 1498.5 450.1 1490.3 447.7 1483.0 441.9 1475.7 437.5 1466.0 437.5 1456.3 436.0 1451.5 430.2 1441.7 426.8 1434.5 427.8 1424.8 423.9 1427.2 415.2 1422.3 409.3 1419.4 403.5 1412.6 397.2 1402.9 394.8 1390.8 392.3 1383.5 385.0 1376.2 382.6 1369.9 375.3 1368.9 371.9 1359.2 372.4 1349.5 372.4 1337.4 370.5 1330.1 365.6 1325.2 367.6 1321.4 372.9 1322.8 370.5 1320.4 364.2 1313.1 369.0 1306.8 370.5 1303.4 372.9 1301.0 377.8 1294.7 382.1 1286.4 377.8 1281.6 378.7 1276.7 381.2 1271.9 380.2 1267.0 375.3 1263.6 371.0 1264.6 363.2 1265.5 355.9 1266.0 351.0 1259.7 347.2 1252.4 346.7 1244.2 347.2 1240.3 346.7 1241.8 338.9 1245.2 334.1 1247.6 324.3 1247.6 319.5 1240.3 319.5 1231.6 321.9 1230.6 327.7 1225.7 334.1 1219.4 334.1 1211.2 335.5 1204.4 332.6 1201.5 327.7 1197.6 319.5 1195.2 313.2 1196.1 302.5 1197.6 295.2 1197.1 288.9 1203.9 285.0 1211.2 280.6 1218.5 279.2 1225.7 280.6 1233.0 283.1 1236.9 279.2 1242.7 275.8 1250.0 276.3 1257.3 279.7 1262.1 278.2 1267.0 283.1 1268.5 290.3 1272.8 297.6 1276.7 301.5 1280.1 299.6 1281.1 292.8 1278.6 285.5 1275.2 278.2 1275.7 270.9 1280.6 266.1 1286.4 261.2 1291.8 258.8 1298.5 254.4 1303.4 251.5 1301.5 244.7 1299.5 239.3 1304.4 236.9 1305.8 235.0 1306.3 233.0 1310.7 228.2 1312.1 226.7 1318.0 224.8 1325.2 222.3 1330.1 221.4 1327.2 216.5 1329.1 211.7 1335.0 209.2 1344.7 206.3 1349.5 204.4 1355.3 202.4 1356.8 204.4 1349.5 207.8 1350.5 212.1 1359.2 207.8 1371.4 204.9 1376.2 201.5 1377.7 199.0 1371.4 197.6 1364.1 201.0 1356.8 199.5 1354.4 195.6 1354.4 189.3 1347.1 185.0 1339.8 186.4 1332.5 190.8 1325.2 196.1 1330.1 192.7 1337.4 185.4 1344.7 182.0 1354.4 180.1 1368.9 180.1 1378.6 180.1 1390.8 174.3 1398.1 169.9 1399.0 164.1 1393.2 159.2 1385.9 156.8 1376.2 152.9 1371.4 148.0 1368.9 142.2 1361.7 137.4 1356.8 130.1 M1208.8 130.1 1211.2 137.4 1220.9 147.1 1233.0 147.1 1242.7 151.9 1257.3 155.3 1269.4 156.8 1271.9 166.5 1279.1 173.8 1284.0 173.8 1287.4 168.9 1288.4 159.2 1296.1 154.4 1298.1 144.6 1293.7 137.4 1292.2 130.1 M1382.0 192.7 1393.2 192.7 1400.5 195.6 1407.8 196.6 1414.1 193.2 1412.6 188.4 1408.7 184.5 1400.5 181.6 1398.1 176.2 1393.7 173.8 1390.8 178.6 1385.9 185.9 1382.0 192.7 M1223.3 197.1 1235.4 190.8 1242.7 187.4 1252.4 187.9 1258.3 193.2 1259.2 198.1 1250.0 198.1 1242.7 195.6 1230.6 197.6 1223.3 197.1 M1243.7 219.9 1245.2 210.2 1246.6 202.9 1252.4 201.0 1257.3 201.5 1251.0 207.8 1251.5 217.5 1247.6 221.4 1243.7 219.9 M1259.7 201.0 1264.6 200.0 1274.3 201.0 1279.1 203.4 1281.6 207.3 1274.3 206.3 1273.3 214.1 1269.4 215.1 1264.6 210.2 1265.5 205.3 1259.7 201.0 M1264.6 221.4 1276.7 220.4 1286.4 216.0 1281.6 217.0 1271.9 219.9 1264.6 221.4 M1282.5 213.6 1291.3 213.1 1299.5 212.6 1298.5 209.2 1286.4 211.2 1282.5 213.6 M1198.1 178.6 1202.4 176.2 1196.6 166.5 1190.3 162.6 1194.2 168.9 1198.1 178.6 M1257.3 317.5 1262.1 313.7 1271.9 311.2 1279.1 311.7 1291.3 315.1 1301.0 321.4 1309.7 325.8 1305.8 327.3 1296.1 327.3 1292.7 323.4 1288.8 319.0 1279.1 317.1 1272.8 316.1 1267.0 317.1 1259.7 318.0 1257.3 317.5 M1308.7 334.1 1315.5 327.3 1325.2 327.3 1335.0 330.7 1337.9 333.6 1330.1 335.5 1322.8 338.4 1316.5 336.0 1308.7 334.1 M1289.8 334.5 1299.5 335.5 1297.1 337.5 1291.3 336.5 1289.8 334.5 M1343.7 334.1 1351.5 334.5 1351.0 336.5 1343.7 336.5 1343.7 334.1 M1290.3 301.5 1292.7 303.9 1292.2 307.3 1289.8 305.9 1290.3 301.5 M1286.4 294.2 1291.3 294.2 1291.8 295.2 1286.9 295.2 1286.4 294.2 M1294.2 292.8 1296.1 295.2 1295.2 297.6 1293.7 295.7 1294.2 292.8 M1297.6 300.1 1300.0 301.5 1300.5 303.9 1299.0 302.5 1297.6 300.1 M1369.4 371.4 1373.8 371.4 1374.3 374.8 1369.4 374.8 1369.4 371.4 M1336.9 679.4 1347.1 690.0 1352.9 690.5 1342.2 693.4 1332.5 692.5 1325.2 690.0 1318.0 687.1 1327.7 682.8 1336.9 679.4 M1372.3 674.0 1381.1 673.0 1389.3 674.5 1385.9 677.4 1376.2 677.4 1372.3 674.0 M1484.5 686.2 1492.7 686.6 1496.1 690.0 1490.3 688.6 1484.5 686.2 M1310.7 626.9 1313.1 626.9 1313.1 634.2 1309.2 633.7 1310.7 626.9 M475.8 529.8 483.1 524.9 490.4 523.9 497.6 522.5 504.9 520.1 512.2 513.7 516.1 506.5 521.9 504.0 526.8 499.2 531.6 494.3 537.9 490.9 543.8 495.8 551.0 496.3 554.9 487.0 558.3 483.2 565.6 482.7 566.6 479.8 572.9 482.2 580.2 483.2 586.0 482.7 582.6 489.5 580.2 496.8 589.9 503.1 597.1 508.4 605.9 508.9 609.3 499.2 609.8 487.0 611.7 477.3 614.1 475.9 616.6 484.6 619.0 491.9 623.8 493.4 627.7 499.2 628.7 506.5 632.1 515.2 638.4 518.6 645.7 524.9 651.5 532.2 657.8 540.5 665.1 546.3 666.1 555.0 668.0 563.8 665.1 574.5 662.7 581.7 656.4 588.5 653.9 593.9 650.5 601.2 650.1 606.5 640.8 607.5 632.6 613.3 626.3 610.9 623.8 609.4 619.0 612.3 611.7 610.4 604.4 608.5 600.5 603.6 599.6 597.8 594.7 596.8 592.8 590.5 589.9 593.9 587.0 595.3 591.3 586.6 590.4 583.7 587.4 588.1 582.6 592.9 580.6 592.9 577.7 586.6 572.9 583.2 565.6 579.3 558.3 576.9 548.6 577.9 538.9 580.8 529.2 583.7 524.3 586.6 514.6 589.0 504.9 589.0 495.2 593.9 487.9 593.9 480.6 590.5 484.0 585.6 484.0 579.3 480.6 569.6 478.7 562.3 474.8 552.6 472.9 545.3 474.8 538.0 473.9 533.2 475.8 529.8 M624.3 621.6 633.6 623.5 642.3 622.5 642.3 628.9 639.9 633.7 633.6 635.7 627.7 629.3 624.3 621.6 M585.5 597.3 590.4 596.8 592.3 597.8 588.4 598.7 585.5 597.3 M760.7 591.0 768.5 597.3 771.9 602.6 775.8 603.6 779.2 607.5 786.5 606.5 788.9 610.9 781.6 614.3 780.6 618.2 773.3 625.9 769.9 624.5 772.9 620.6 767.0 615.7 769.9 610.9 769.5 603.6 762.2 595.8 760.7 591.0 M760.7 620.6 767.0 624.0 768.0 627.9 762.2 635.2 761.2 636.6 753.9 639.5 751.0 646.3 743.7 650.2 730.6 647.3 732.1 643.4 739.4 637.6 750.0 632.7 754.9 626.9 757.8 622.1 760.7 620.6 M735.5 650.7 738.9 651.2 737.9 653.1 735.5 652.6 735.5 650.7 M-104.7 249.1 -108.1 246.6 -113.5 243.2 -120.8 244.2 -120.3 236.9 -123.7 235.5 -120.8 228.7 -119.8 220.9 -122.2 215.1 -116.4 211.7 -104.3 212.6 -94.5 213.1 -86.3 213.1 -83.9 207.8 -83.4 200.5 -88.2 195.2 -99.4 191.3 -99.4 187.9 -92.1 186.9 -85.3 187.9 -85.3 182.5 -76.6 183.5 -70.3 180.1 -65.4 175.7 -60.1 173.8 -55.7 168.9 -53.3 165.0 -43.6 163.6 -36.3 162.6 -35.3 156.8 -37.8 149.5 -35.8 146.6 -26.6 143.7 -27.6 149.5 -25.1 151.0 -29.0 156.8 -24.2 161.6 -16.9 159.7 -9.6 161.6 0.1 160.2 12.2 157.8 18.1 159.7 24.4 156.8 24.4 149.5 27.3 144.6 32.1 143.7 40.4 146.1 38.9 140.8 36.5 136.4 42.8 134.9 58.4 134.9 68.1 132.5 M1642.7 249.1 1639.3 246.6 1634.0 243.2 1626.7 244.2 1627.2 236.9 1623.8 235.5 1626.7 228.7 1627.7 220.9 1625.2 215.1 1631.0 211.7 1643.2 212.6 1652.9 213.1 1661.1 213.1 1663.6 207.8 1664.1 200.5 1659.2 195.2 1648.0 191.3 1648.0 187.9 1655.3 186.9 1662.1 187.9 1662.1 182.5 1670.9 183.5 1677.2 180.1 1682.0 175.7 1687.4 173.8 1691.7 168.9 1694.2 165.0 1703.9 163.6 1711.1 162.6 1712.1 156.8 1709.7 149.5 1711.6 146.6 1720.8 143.7 1719.9 149.5 1722.3 151.0 1718.4 156.8 1723.3 161.6 1730.6 159.7 1737.8 161.6 1747.5 160.2 1759.7 157.8 1765.5 159.7 1771.8 156.8 1771.8 149.5 1774.7 144.6 1779.6 143.7 1787.8 146.1 1786.4 140.8 1783.9 136.4 1790.3 134.9 1805.8 134.9 1815.5 132.5 M1694.2 130.1 1696.6 137.4 1701.4 141.7 1708.7 141.7 1716.0 137.8 1722.3 136.4 1724.2 139.8 1727.2 143.7 1730.6 149.5 1732.5 154.4 1738.8 154.8 1740.3 151.9 1747.5 151.4 1750.0 147.1 1750.9 139.8 1757.3 137.4 1759.7 134.9 1761.6 130.1 M26.3 130.1 31.7 133.0 43.8 131.5 53.5 130.1 63.2 131.0 70.5 130.1 M1773.8 130.1 1779.1 133.0 1791.2 131.5 1800.9 130.1 1810.6 131.0 1817.9 130.1 M1723.3 151.9 1730.6 151.9 1729.6 155.3 1724.2 155.8 1723.3 151.9 M1758.2 142.7 1762.1 142.7 1759.7 146.6 1758.2 142.7 M1642.2 181.1 1649.5 179.6 1655.3 177.7 1665.0 177.7 1676.7 175.2 1673.8 173.3 1678.1 168.4 1671.3 166.0 1670.4 163.6 1665.0 159.2 1662.6 154.4 1659.7 151.9 1657.7 149.5 1661.1 144.6 1653.9 143.7 1650.5 142.7 1654.8 139.3 1645.6 139.3 1644.2 144.6 1642.2 149.5 1643.2 152.9 1646.1 156.8 1652.9 157.3 1655.3 161.6 1654.8 165.0 1647.6 165.5 1650.0 168.9 1644.6 172.8 1655.3 173.8 1648.0 175.2 1642.2 181.1 M1640.8 170.4 1639.8 164.1 1642.7 159.2 1638.3 155.8 1633.5 155.3 1628.6 159.2 1621.3 160.7 1623.3 166.5 1620.4 171.4 1623.8 173.8 1631.0 172.3 1638.8 170.9 1640.8 170.4 M1715.5 215.1 1716.0 218.9 1714.5 222.8 1711.6 220.4 1712.1 217.0 1715.5 215.1 M1709.7 224.8 1716.0 224.3 1717.4 229.6 1716.0 233.5 1711.1 235.0 1710.7 229.6 1709.7 224.8 M1730.1 239.8 1735.4 238.4 1745.6 237.9 1743.7 244.2 1739.3 244.2 1731.0 241.3 1730.1 239.8 M1783.9 252.5 1797.5 252.5 1796.1 253.9 1786.4 253.4 1783.9 252.5 M79.2 255.4 82.6 252.5 89.9 251.0 87.0 254.4 82.6 255.9 79.2 255.4 M1681.5 231.6 1686.4 230.6 1685.4 233.0 1682.5 232.5 1681.5 231.6 M256.4 660.9 260.3 659.9 264.6 662.4 261.2 664.8 257.4 664.3 256.4 660.9 M181.2 362.7 185.5 362.2 187.0 363.7 183.1 364.2 181.2 362.7 M718.5 522.0 725.8 525.9 733.1 532.2 730.6 532.7 722.4 527.3 718.5 522.0 M731.1 495.8 734.0 497.7 733.1 499.7 731.6 499.2 731.1 495.8 M738.9 508.9 740.8 509.9 739.4 510.8 738.9 508.9 M783.1 508.9 786.5 507.9 789.4 511.3 785.5 512.8 783.1 510.8 783.1 508.9 M789.8 503.5 795.7 502.6 793.7 505.5 790.8 505.5 789.8 503.5 M697.1 469.1 701.5 469.6 703.0 472.0 698.6 471.5 697.1 469.1 M702.5 465.2 705.4 467.6 706.4 471.0 703.9 468.6 702.5 465.2 M672.9 450.1 676.8 453.0 679.2 456.9 676.3 456.4 673.4 452.6 672.9 450.1 M690.3 460.8 695.2 463.7 698.1 465.2 694.2 464.7 690.3 460.8 M913.1 331.1 917.5 328.7 913.6 325.8 912.7 328.2 913.1 331.1 M909.3 322.4 912.7 323.4 910.7 323.9 909.3 322.4 M901.5 319.0 904.4 320.5 902.5 320.5 901.5 319.0 M894.7 316.6 896.6 316.1 896.2 317.5 894.7 316.6 M831.1 489.5 834.0 489.5 837.9 491.4 833.1 490.9 831.1 489.5 M1225.3 424.9 1228.2 426.3 1226.2 428.8 1225.3 426.8 1225.3 424.9 M811.7 636.1 814.6 636.6 813.1 638.6 811.7 636.1 M1530.1 236.4 1534.0 237.4 1531.1 236.9 1530.1 236.4 M1544.6 239.8 1547.6 240.3 1546.1 240.8 1544.6 239.8 M1586.4 264.6 1588.8 265.1 1587.4 265.6 1586.4 264.6 M1587.8 285.0 1591.7 285.5 1589.8 287.4 1587.8 286.5 1587.8 285.0 M1593.2 286.9 1595.1 287.4 1594.2 288.9 1593.2 286.9 M1600.0 284.5 1602.9 284.5 1599.5 287.4 1600.0 284.5 M1554.4 349.6 1556.3 350.6 1555.8 351.5 1554.4 349.6 M200.6 521.0 203.0 522.0 201.5 523.5 200.6 521.0 M190.4 525.4 193.3 526.4 191.8 527.8 190.4 525.4 M132.1 479.3 133.6 481.7 132.6 481.2 132.1 479.3 M112.7 451.6 114.7 453.5 113.7 455.0 112.7 451.6 M1711.1 405.4 1713.1 405.9 1712.1 408.4 1711.1 405.4 M372.4 357.8 373.9 360.8 372.9 365.6 371.9 368.0 371.4 363.2 372.4 357.8 M377.3 388.4 378.2 389.9 377.7 390.9 377.3 388.4 M1354.9 266.5 1356.3 267.0 1355.3 267.5 1354.9 266.5 M624.3 357.8 625.8 358.3 624.8 359.8 624.3 357.8 M433.1 431.7 437.9 432.6 440.8 438.5 437.0 437.5 433.1 431.7 M444.7 436.5 447.6 437.0 446.7 439.4 444.7 438.5 444.7 436.5 M884.0 312.2 885.5 311.7 884.5 312.7 884.0 312.2 M1356.8 182.0 1368.9 184.5 1369.9 185.4 1359.2 184.0 1356.8 182.0 M1371.4 202.4 1378.6 200.5 1376.2 195.6 1371.4 198.1 1371.4 202.4 M1357.3 197.6 1368.9 198.6 1366.5 200.5 1359.2 199.0 1357.3 197.6 M1047.1 177.2 1053.4 180.1 1063.1 186.4 1071.4 189.3 1068.0 185.0 1060.7 179.6 1051.0 176.2 1047.1 177.2 M1024.3 161.2 1030.6 162.1 1032.5 169.4 1029.2 168.4 1024.3 161.2 M919.0 145.6 925.8 143.2 930.6 144.2 924.8 147.1 919.0 145.6 M861.7 162.1 866.5 161.2 864.1 164.1 861.7 162.1 M852.0 165.5 855.4 164.1 854.4 166.5 852.0 165.5 M842.3 168.0 845.7 167.0 844.7 168.9 842.3 168.0 M822.9 170.4 830.1 169.4 827.7 171.4 822.9 170.4 M808.3 172.3 815.6 171.4 813.1 173.3 808.3 172.3 M786.5 171.8 793.7 173.8 790.3 174.3 786.5 171.8 M762.2 167.5 767.0 167.5 764.6 168.9 762.2 167.5 M860.2 131.5 865.1 131.0 862.7 133.5 860.2 131.5 M631.1 212.1 635.0 210.7 638.4 207.8 636.0 208.3 631.1 212.1 M643.3 204.4 648.1 201.5 645.7 202.0 643.3 204.4 M653.0 199.5 657.8 196.1 655.4 196.6 653.0 199.5 M662.7 192.7 666.6 190.3 664.6 190.3 662.7 192.7 M541.8 297.1 545.2 293.7 543.3 293.7 541.8 297.1 M550.1 287.4 552.0 285.5 550.5 285.5 550.1 287.4 M599.1 256.8 599.6 255.4 598.6 255.9 599.1 256.8 M844.7 132.5 844.7 132.5 M76.8 422.4 82.6 422.0 87.5 423.9 91.4 425.8 87.5 428.8 85.0 436.0 80.2 436.5 76.3 431.2 76.8 422.4 M88.9 470.0 90.4 474.9 90.4 479.8 91.8 484.6 93.8 491.9 92.8 493.8 90.4 490.0 88.9 482.2 87.5 474.9 88.9 470.0 M1734.0 356.4 1740.3 355.9 1742.7 359.3 1739.3 362.7 1735.4 360.8 1734.0 356.4 M1129.6 138.8 1140.8 135.9 1151.5 135.9 1143.2 137.4 1129.6 138.8 M1172.3 144.6 1174.8 150.5 1170.9 149.0 1172.3 144.6 M96.7 402.0 98.2 402.5 100.1 409.3 97.2 411.8 96.7 402.0 M1330.6 497.7 1334.0 498.2 1336.4 503.1 1332.5 500.6 1330.6 497.7 M1321.4 371.4 1325.2 371.4 1324.3 378.7 1321.4 377.3 1321.4 371.4" stroke="#000" stroke-width="1.7" fill="none" stroke-linejoin="round" stroke-linecap="round"/>
<path d="M213.68 132.50V715.30M359.30 132.50V715.30M504.92 132.50V715.30M650.54 132.50V715.30M796.16 132.50V715.30M941.78 132.50V715.30M1087.40 132.50V715.30M1233.02 132.50V715.30M1378.64 132.50V715.30M1524.26 132.50V715.30M1669.88 132.50V715.30M72.00 278.20H1815.50M72.00 423.90H1815.50M72.00 569.60H1815.50" stroke="#000" stroke-width="1.8" fill="none"/>
<rect x="72.0" y="132.5" width="1743.5" height="582.8" fill="none" stroke="#000" stroke-width="3.2"/>
<rect x="92.6" y="154" width="96.4" height="102.7" fill="#fff" stroke="#000" stroke-width="1.6"/>
<rect x="1879.2" y="144" width="70" height="70" fill="#006666" stroke="#000" stroke-width="1.6"/>
<rect x="1879.2" y="214" width="70" height="70" fill="#00cccc" stroke="#000" stroke-width="1.6"/>
<rect x="1879.2" y="284" width="70" height="70" fill="#66ffff" stroke="#000" stroke-width="1.6"/>
<rect x="1879.2" y="354" width="70" height="70" fill="#b2ffff" stroke="#000" stroke-width="1.6"/>
<rect x="1879.2" y="424" width="70" height="70" fill="#ffe5cb" stroke="#000" stroke-width="1.6"/>
<rect x="1879.2" y="494" width="70" height="70" fill="#ffad65" stroke="#000" stroke-width="1.6"/>
<rect x="1879.2" y="564" width="70" height="70" fill="#cc5500" stroke="#000" stroke-width="1.6"/>
<rect x="1879.2" y="634" width="70" height="70" fill="#662700" stroke="#000" stroke-width="1.6"/>
<defs><clipPath id="pc"><rect x="351.6" y="970.1" width="1394.4" height="465.19999999999993"/></clipPath></defs>
<path d="M351.6 1202.70H1746.0" stroke="#000" stroke-width="1.1"/>
<path d="M352.5 1357.0 L410.3 1268.0 L455.5 1213.0 L503.5 1200.0 L559.0 1225.0 L613.0 1271.5 L676.7 1302.5 L740.0 1320.0 L806.7 1301.7 L875.0 1270.0 L943.3 1238.3 L1013.5 1297.5 L1084.2 1146.0 L1154.0 995.7 L1223.0 1276.0 L1291.0 1365.0 L1357.0 1378.0 L1420.6 1324.0 L1481.4 1283.0 L1539.0 1189.0 L1592.7 1156.0 L1642.6 1146.4 L1687.5 1187.0 L1727.8 1249.0 L1746.0 1260.0" stroke="#ff0000" stroke-width="2.1" fill="none" stroke-dasharray="7.5 6.5"/>
<path d="M369.8 1042.3 L410.1 1066.0 L455.2 1142.7 L504.9 1202.3 L558.7 1234.0 L616.2 1235.0 L677.1 1224.3 L740.7 1226.0 L806.7 1188.7 L874.6 1181.0 L943.7 1288.3 L1013.7 1339.2 L1083.9 1122.5 L1153.9 1089.3 L1223.0 1295.7 L1290.9 1236.0 L1356.9 1200.0 L1420.5 1193.9 L1481.4 1218.9 L1538.9 1240.4 L1592.7 1281.4 L1642.4 1252.9 L1687.5 1280.4 L1727.8 1201.0" stroke="#000" stroke-width="1.7" fill="none" stroke-linejoin="miter"/>
<g clip-path="url(#pc)">
<circle cx="369.8" cy="1042.3" r="22.9" fill="none" stroke="#000" stroke-width="1.5"/>
<circle cx="410.1" cy="1066.0" r="22.9" fill="none" stroke="#000" stroke-width="1.5"/>
<circle cx="455.2" cy="1142.7" r="22.9" fill="none" stroke="#000" stroke-width="1.5"/>
<circle cx="1013.7" cy="1339.2" r="22.9" fill="none" stroke="#000" stroke-width="1.5"/>
<circle cx="1223.0" cy="1295.7" r="22.9" fill="none" stroke="#000" stroke-width="1.5"/>
<circle cx="1592.7" cy="1281.4" r="22.9" fill="none" stroke="#000" stroke-width="1.5"/>
<circle cx="1687.5" cy="1280.4" r="22.9" fill="none" stroke="#000" stroke-width="1.5"/>
</g>
<path d="M318.6 970.1H1746.0M318.6 1435.3H1746.0M351.6 937.1V1467.5M1746.0 937.1V1467.5" stroke="#000" stroke-width="3.9" fill="none" stroke-linecap="round"/>
<path d="M318.6 1086.40H351.6M318.6 1202.70H351.6M318.6 1319.00H351.6M531.32 970.1V937.1M531.32 1435.3V1467.5M773.45 970.1V937.1M773.45 1435.3V1467.5M1048.80 970.1V937.1M1048.80 1435.3V1467.5M1324.15 970.1V937.1M1324.15 1435.3V1467.5M1566.28 970.1V937.1M1566.28 1435.3V1467.5" stroke="#000" stroke-width="3.2" fill="none" stroke-linecap="round"/>
<path d="M335.1 1028.25H351.6M335.1 1144.55H351.6M335.1 1260.85H351.6M335.1 1377.15H351.6M432.09 970.1V954.1M432.09 1435.3V1450.8M646.27 970.1V954.1M646.27 1435.3V1450.8M909.00 970.1V954.1M909.00 1435.3V1450.8M1188.60 970.1V954.1M1188.60 1435.3V1450.8M1451.33 970.1V954.1M1451.33 1435.3V1450.8M1665.51 970.1V954.1M1665.51 1435.3V1450.8" stroke="#000" stroke-width="1.5" fill="none" stroke-linecap="round"/>
<path d="M1748.0 970.10H1778.7M1748.0 1086.40H1778.7M1748.0 1202.70H1778.7M1748.0 1319.00H1778.7M1748.0 1435.30H1778.7" stroke="#ff0000" stroke-width="3.4" fill="none" stroke-linecap="round"/>
<path d="M1747.0 1028.25H1762.0M1747.0 1144.55H1762.0M1747.0 1260.85H1762.0M1747.0 1377.15H1762.0" stroke="#ff0000" stroke-width="1.4" fill="none" stroke-linecap="round"/>
<rect x="1618" y="998.3" width="95" height="118.2" fill="#fff" stroke="#000" stroke-width="1.6"/>
<text transform="translate(154.68 73.75) scale(0.9470 1)" font-family="'Liberation Sans', Arial, Helvetica, sans-serif" font-size="84.8">MAC Liquid Water Path Trend (g m</text>
<text transform="translate(1402.12 35.10) scale(1.0000 1)" font-family="'Liberation Sans', Arial, Helvetica, sans-serif" font-size="47">-2</text>
<text transform="translate(1467.40 73.75) scale(0.9370 1)" font-family="'Liberation Sans', Arial, Helvetica, sans-serif" font-size="84.8">/ 25-Yr)</text>
<text transform="translate(515.16 874.80) scale(0.9510 1)" font-family="'Liberation Sans', Arial, Helvetica, sans-serif" font-size="84.6">MAC Liquid Water Path Trend</text>
<text transform="translate(118.22 227.10) scale(0.9150 1)" font-family="'Liberation Sans', Arial, Helvetica, sans-serif" font-size="81.5">a</text>
<text transform="translate(1640.69 1085.70) scale(1.0700 1)" font-family="'Liberation Sans', Arial, Helvetica, sans-serif" font-size="80.3">b</text>
<text transform="translate(1978.92 242.60) scale(0.9700 1)" font-family="'Liberation Sans', Arial, Helvetica, sans-serif" font-size="82.3">9.0</text>
<text transform="translate(1980.12 312.30) scale(0.9700 1)" font-family="'Liberation Sans', Arial, Helvetica, sans-serif" font-size="82.3">4.5</text>
<text transform="translate(1977.72 382.00) scale(0.9700 1)" font-family="'Liberation Sans', Arial, Helvetica, sans-serif" font-size="82.3">1.5</text>
<text transform="translate(1979.32 451.70) scale(0.9700 1)" font-family="'Liberation Sans', Arial, Helvetica, sans-serif" font-size="82.3">0.0</text>
<text transform="translate(1966.15 521.40) scale(0.9700 1)" font-family="'Liberation Sans', Arial, Helvetica, sans-serif" font-size="82.3">-1.5</text>
<text transform="translate(1966.15 591.10) scale(0.9700 1)" font-family="'Liberation Sans', Arial, Helvetica, sans-serif" font-size="82.3">-4.5</text>
<text transform="translate(1966.15 660.80) scale(0.9700 1)" font-family="'Liberation Sans', Arial, Helvetica, sans-serif" font-size="82.3">-9.0</text>
<text transform="translate(155.26 998.50) scale(0.9640 1)" font-family="'Liberation Sans', Arial, Helvetica, sans-serif" font-size="82.4">8.0</text>
<text transform="translate(155.26 1114.80) scale(0.9640 1)" font-family="'Liberation Sans', Arial, Helvetica, sans-serif" font-size="82.4">4.0</text>
<text transform="translate(155.26 1231.10) scale(0.9640 1)" font-family="'Liberation Sans', Arial, Helvetica, sans-serif" font-size="82.4">0.0</text>
<text transform="translate(129.05 1347.40) scale(0.9640 1)" font-family="'Liberation Sans', Arial, Helvetica, sans-serif" font-size="82.4">-4.0</text>
<text transform="translate(129.05 1463.70) scale(0.9640 1)" font-family="'Liberation Sans', Arial, Helvetica, sans-serif" font-size="82.4">-8.0</text>
<text transform="translate(1828.63 999.50) scale(0.9510 1)" font-family="'Liberation Sans', Arial, Helvetica, sans-serif" font-size="82.4" fill="#ff0000">130</text>
<text transform="translate(1828.63 1115.80) scale(0.9510 1)" font-family="'Liberation Sans', Arial, Helvetica, sans-serif" font-size="82.4" fill="#ff0000">110</text>
<text transform="translate(1830.98 1232.10) scale(0.9510 1)" font-family="'Liberation Sans', Arial, Helvetica, sans-serif" font-size="82.4" fill="#ff0000">90</text>
<text transform="translate(1830.98 1348.40) scale(0.9510 1)" font-family="'Liberation Sans', Arial, Helvetica, sans-serif" font-size="82.4" fill="#ff0000">70</text>
<text transform="translate(1831.77 1464.70) scale(0.9510 1)" font-family="'Liberation Sans', Arial, Helvetica, sans-serif" font-size="82.4" fill="#ff0000">50</text>
<text transform="translate(279.92 1583.30) scale(0.9680 1)" font-family="'Liberation Sans', Arial, Helvetica, sans-serif" font-size="83.2">60S</text>
<text transform="translate(460.85 1583.30) scale(0.9680 1)" font-family="'Liberation Sans', Arial, Helvetica, sans-serif" font-size="83.2">40S</text>
<text transform="translate(701.78 1583.30) scale(0.9680 1)" font-family="'Liberation Sans', Arial, Helvetica, sans-serif" font-size="83.2">20S</text>
<text transform="translate(998.87 1583.30) scale(0.9680 1)" font-family="'Liberation Sans', Arial, Helvetica, sans-serif" font-size="83.2">Eq</text>
<text transform="translate(1251.66 1583.30) scale(0.9680 1)" font-family="'Liberation Sans', Arial, Helvetica, sans-serif" font-size="83.2">20N</text>
<text transform="translate(1495.01 1583.30) scale(0.9680 1)" font-family="'Liberation Sans', Arial, Helvetica, sans-serif" font-size="83.2">40N</text>
<text transform="translate(1673.52 1583.30) scale(0.9680 1)" font-family="'Liberation Sans', Arial, Helvetica, sans-serif" font-size="83.2">60N</text>
<text transform="translate(73.60 1423.10) rotate(-90) scale(0.9630 1)" font-family="'Liberation Sans', Arial, Helvetica, sans-serif" font-size="83">g m</text>
<text transform="translate(35.00 1289.46) rotate(-90) scale(1.0000 1)" font-family="'Liberation Sans', Arial, Helvetica, sans-serif" font-size="49">-2</text>
<text transform="translate(73.60 1224.50) rotate(-90) scale(0.9700 1)" font-family="'Liberation Sans', Arial, Helvetica, sans-serif" font-size="83">/ 25-Yr</text>
<text transform="translate(2071.80 1408.30) rotate(-90) scale(0.9640 1)" font-family="'Liberation Sans', Arial, Helvetica, sans-serif" font-size="83" fill="#ff0000">Clim (g m</text>
<text transform="translate(2032.80 1065.60) rotate(-90) scale(1.0000 1)" font-family="'Liberation Sans', Arial, Helvetica, sans-serif" font-size="50" fill="#ff0000">-2</text>
<text transform="translate(2071.80 1022.90) rotate(-90) scale(0.9640 1)" font-family="'Liberation Sans', Arial, Helvetica, sans-serif" font-size="83" fill="#ff0000">)</text>
</svg>
</body></html>
